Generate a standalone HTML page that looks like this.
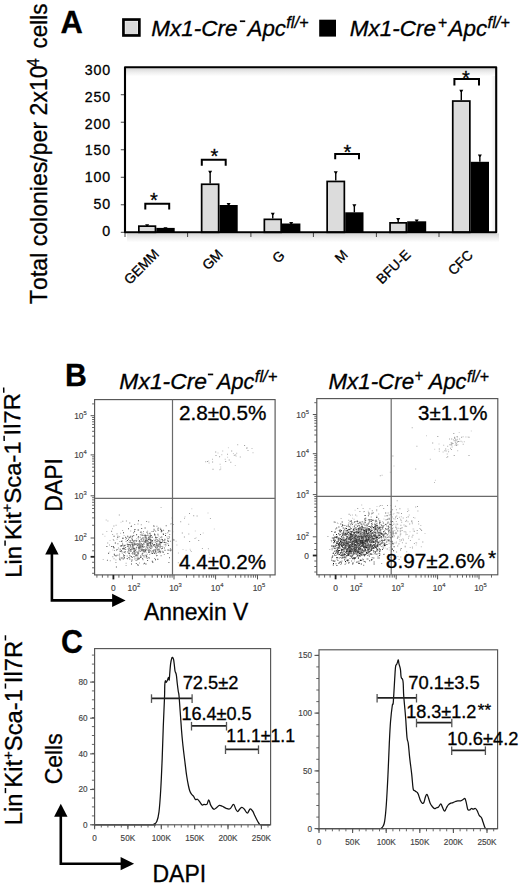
<!DOCTYPE html>
<html><head><meta charset="utf-8"><style>
html,body{margin:0;padding:0;background:#fff;width:520px;height:884px;overflow:hidden}
svg{display:block}
text{font-family:"Liberation Sans",sans-serif;font-kerning:none;stroke:#000;stroke-width:0.3px}
text[fill="#444"]{stroke:#444;stroke-width:0.15px}
</style></head><body>
<svg width="520" height="884" viewBox="0 0 520 884">
<rect width="520" height="884" fill="#fff"/>
<text transform="translate(60.42,33.00) scale(0.9810,1)" font-size="31.5" font-weight="bold" fill="#000">A</text>
<rect x="123.45" y="19.55" width="15.9" height="15.9" fill="#fff" stroke="#000" stroke-width="2.7"/>
<rect x="125.3" y="21.3" width="12.4" height="12.7" fill="#d9d9d9"/>
<rect x="319.2" y="19.7" width="16.8" height="16.9" fill="#000"/>
<text transform="translate(151.18,36.00) scale(1.0242,1)" font-size="22" font-style="italic" fill="#000">Mx1-Cre</text>
<rect x="239.9" y="20.4" width="5.3" height="1.7" fill="#000"/>
<text transform="translate(247.52,36.00) scale(1.0155,1)" font-size="22" font-style="italic" fill="#000">Apc</text>
<text transform="translate(286.30,28.40) scale(0.9953,1)" font-size="16.5" font-style="italic" fill="#000">fl/+</text>
<text transform="translate(349.68,36.00) scale(1.0242,1)" font-size="22" font-style="italic" fill="#000">Mx1-Cre</text>
<text transform="translate(437.84,27.90) scale(0.9630,1)" font-size="16.5" font-style="italic" fill="#000">+</text>
<text transform="translate(448.52,36.00) scale(1.0207,1)" font-size="22" font-style="italic" fill="#000">Apc</text>
<text transform="translate(487.60,28.40) scale(0.9953,1)" font-size="16.5" font-style="italic" fill="#000">fl/+</text>
<text transform="translate(46.90,304.00) rotate(-90) scale(1.0038,1)" font-size="23" fill="#000">Total colonies/per 2x10</text>
<text transform="translate(38.60,66.77) rotate(-90) scale(0.9277,1)" font-size="16.5" fill="#000">4</text>
<text transform="translate(46.90,48.48) rotate(-90) scale(0.9751,1)" font-size="23" fill="#000">cells</text>
<defs><linearGradient id="sh" x1="0" y1="0" x2="0" y2="1"><stop offset="0" stop-color="#d8d8d8"/><stop offset="0.5" stop-color="#eeeeee"/><stop offset="1" stop-color="#fff"/></linearGradient><linearGradient id="shr" x1="0" y1="0" x2="1" y2="0"><stop offset="0" stop-color="#fff"/><stop offset="1" stop-color="#ededed"/></linearGradient></defs>
<rect x="126" y="68.2" width="369" height="8" fill="url(#sh)"/>
<rect x="491" y="76" width="4" height="155" fill="url(#shr)"/>
<rect x="127" y="233.4" width="372" height="9" fill="url(#sh)"/>
<line x1="120.8" y1="232.30" x2="124.5" y2="232.30" stroke="#444" stroke-width="1"/>
<text x="102.20" y="235.85" font-size="14.2" letter-spacing="0.8">0</text>
<line x1="120.8" y1="204.78" x2="124.5" y2="204.78" stroke="#444" stroke-width="1"/>
<text x="93.50" y="209.05" font-size="14.2" letter-spacing="0.8">50</text>
<line x1="120.8" y1="177.27" x2="124.5" y2="177.27" stroke="#444" stroke-width="1"/>
<text x="84.80" y="182.25" font-size="14.2" letter-spacing="0.8">100</text>
<line x1="120.8" y1="149.75" x2="124.5" y2="149.75" stroke="#444" stroke-width="1"/>
<text x="84.80" y="155.45" font-size="14.2" letter-spacing="0.8">150</text>
<line x1="120.8" y1="122.23" x2="124.5" y2="122.23" stroke="#444" stroke-width="1"/>
<text x="84.80" y="128.65" font-size="14.2" letter-spacing="0.8">200</text>
<line x1="120.8" y1="94.72" x2="124.5" y2="94.72" stroke="#444" stroke-width="1"/>
<text x="84.80" y="101.85" font-size="14.2" letter-spacing="0.8">250</text>
<text x="84.80" y="75.05" font-size="14.2" letter-spacing="0.8">300</text>
<line x1="187.6" y1="232" x2="187.6" y2="237" stroke="#444" stroke-width="1"/>
<line x1="250.9" y1="232" x2="250.9" y2="237" stroke="#444" stroke-width="1"/>
<line x1="313.4" y1="232" x2="313.4" y2="237" stroke="#444" stroke-width="1"/>
<line x1="376.4" y1="232" x2="376.4" y2="237" stroke="#444" stroke-width="1"/>
<line x1="439" y1="232" x2="439" y2="237" stroke="#444" stroke-width="1"/>
<line x1="125" y1="232" x2="125" y2="237" stroke="#444" stroke-width="1"/>
<path d="M147.15,225.2 V225.3" stroke="#000" stroke-width="1.4"/>
<path d="M145.15,224.2 h4 l-1.3,2.2 h-1.4z" fill="#000"/>
<path d="M165.50,228.3 V227.9" stroke="#000" stroke-width="1.4"/>
<path d="M163.50,227.3 h4 l-1.3,2.2 h-1.4z" fill="#000"/>
<rect x="138.85" y="226.15" width="16.60" height="6.15" fill="#dcdcdc" stroke="#000" stroke-width="1.7"/>
<rect x="156.30" y="227.90" width="18.40" height="4.40" fill="#000"/>
<path d="M210.15,171.7 V183.4" stroke="#000" stroke-width="1.4"/>
<path d="M208.15,170.7 h4 l-1.3,2.2 h-1.4z" fill="#000"/>
<path d="M228.60,204 V205" stroke="#000" stroke-width="1.4"/>
<path d="M226.60,203 h4 l-1.3,2.2 h-1.4z" fill="#000"/>
<rect x="201.65" y="184.25" width="17.00" height="48.05" fill="#dcdcdc" stroke="#000" stroke-width="1.7"/>
<rect x="219.50" y="205.00" width="18.20" height="27.30" fill="#000"/>
<path d="M272.75,213.7 V218.5" stroke="#000" stroke-width="1.4"/>
<path d="M270.75,212.7 h4 l-1.3,2.2 h-1.4z" fill="#000"/>
<path d="M291.20,223 V223.5" stroke="#000" stroke-width="1.4"/>
<path d="M289.20,222 h4 l-1.3,2.2 h-1.4z" fill="#000"/>
<rect x="264.35" y="219.35" width="16.80" height="12.95" fill="#dcdcdc" stroke="#000" stroke-width="1.7"/>
<rect x="282.00" y="223.50" width="18.40" height="8.80" fill="#000"/>
<path d="M335.75,172.3 V180.6" stroke="#000" stroke-width="1.4"/>
<path d="M333.75,171.3 h4 l-1.3,2.2 h-1.4z" fill="#000"/>
<path d="M354.35,205.2 V212.3" stroke="#000" stroke-width="1.4"/>
<path d="M352.35,204.2 h4 l-1.3,2.2 h-1.4z" fill="#000"/>
<rect x="327.15" y="181.45" width="17.20" height="50.85" fill="#dcdcdc" stroke="#000" stroke-width="1.7"/>
<rect x="345.20" y="212.30" width="18.30" height="20.00" fill="#000"/>
<path d="M398.20,219 V222" stroke="#000" stroke-width="1.4"/>
<path d="M396.20,218 h4 l-1.3,2.2 h-1.4z" fill="#000"/>
<path d="M416.70,220.5 V221.3" stroke="#000" stroke-width="1.4"/>
<path d="M414.70,219.5 h4 l-1.3,2.2 h-1.4z" fill="#000"/>
<rect x="390.05" y="222.85" width="16.30" height="9.45" fill="#dcdcdc" stroke="#000" stroke-width="1.7"/>
<rect x="407.20" y="221.30" width="19.00" height="11.00" fill="#000"/>
<path d="M461.30,90.8 V100.2" stroke="#000" stroke-width="1.4"/>
<path d="M459.30,89.8 h4 l-1.3,2.2 h-1.4z" fill="#000"/>
<path d="M479.85,155.5 V161.8" stroke="#000" stroke-width="1.4"/>
<path d="M477.85,154.5 h4 l-1.3,2.2 h-1.4z" fill="#000"/>
<rect x="452.75" y="101.05" width="17.10" height="131.25" fill="#dcdcdc" stroke="#000" stroke-width="1.7"/>
<rect x="470.70" y="161.80" width="18.30" height="70.50" fill="#000"/>
<path d="M145.3,209.6 V203.8 H169.2 V209.6" fill="none" stroke="#000" stroke-width="2"/>
<text x="150.10" y="207.10" font-size="20">*</text>
<path d="M201.8,165.7 V159.8 H225.7 V165.7" fill="none" stroke="#000" stroke-width="2"/>
<text x="210.60" y="163.20" font-size="20">*</text>
<path d="M335.2,159.2 V153.9 H359 V159.2" fill="none" stroke="#000" stroke-width="2"/>
<text x="343.50" y="158.60" font-size="20">*</text>
<path d="M454.4,85.6 V78.9 H479 V85.6" fill="none" stroke="#000" stroke-width="2"/>
<text x="462.00" y="84.90" font-size="20">*</text>
<path d="M125,232.3 V67.2 H496.2 V232.3 Z" fill="none" stroke="#000" stroke-width="2.1" stroke-linejoin="round"/>
<text transform="translate(160,254.8) rotate(-45)" font-size="13.8" text-anchor="end">GEMM</text>
<text transform="translate(223.6,255.1) rotate(-45)" font-size="13.8" text-anchor="end">GM</text>
<text transform="translate(285.6,256.5) rotate(-45)" font-size="13.8" text-anchor="end">G</text>
<text transform="translate(348.6,255.6) rotate(-45)" font-size="13.8" text-anchor="end">M</text>
<text transform="translate(411.4,255.5) rotate(-45)" font-size="13.8" text-anchor="end">BFU-E</text>
<text transform="translate(473.7,256) rotate(-45)" font-size="13.8" text-anchor="end">CFC</text>
<text transform="translate(64.92,386.20) scale(0.9439,1)" font-size="32" font-weight="bold" fill="#000">B</text>
<text transform="translate(119.37,388.50) scale(1.0411,1)" font-size="22" font-style="italic" fill="#000">Mx1-Cre</text>
<rect x="207.9" y="373.6" width="5.3" height="1.7" fill="#000"/>
<text transform="translate(217.08,388.50) scale(0.9845,1)" font-size="22" font-style="italic" fill="#000">Apc</text>
<text transform="translate(254.80,382.30) scale(1.0047,1)" font-size="16.5" font-style="italic" fill="#000">fl/+</text>
<text transform="translate(328.49,388.60) scale(1.0157,1)" font-size="22" font-style="italic" fill="#000">Mx1-Cre</text>
<text transform="translate(414.51,380.60) scale(0.8889,1)" font-size="16.5" font-style="italic" fill="#000">+</text>
<text transform="translate(428.79,388.60) scale(0.9948,1)" font-size="22" font-style="italic" fill="#000">Apc</text>
<text transform="translate(467.01,382.10) scale(0.9812,1)" font-size="16.5" font-style="italic" fill="#000">fl/+</text>
<g transform="translate(21.5,575.8000000000001) rotate(-90.5) scale(1.0386,1)"><text x="-1.90" y="0" font-size="23">Lin</text><rect x="29.09" y="-16.9" width="5" height="1.5" fill="#000"/><text x="34.39" y="0" font-size="23">Kit</text><text x="61.23" y="-8.9" font-size="14.2">+</text><text x="69.53" y="0" font-size="23">Sca-1</text><rect x="129.91" y="-16.9" width="5" height="1.5" fill="#000"/><text x="135.21" y="0" font-size="23">Il7R</text><rect x="176.41" y="-16.9" width="5" height="1.5" fill="#000"/></g>
<g transform="translate(21.6,823.3000000000001) rotate(-90) scale(1.0364,1)"><text x="-1.90" y="0" font-size="23">Lin</text><rect x="29.09" y="-16.9" width="5" height="1.5" fill="#000"/><text x="34.39" y="0" font-size="23">Kit</text><text x="61.23" y="-8.9" font-size="14.2">+</text><text x="69.53" y="0" font-size="23">Sca-1</text><rect x="129.91" y="-16.9" width="5" height="1.5" fill="#000"/><text x="135.21" y="0" font-size="23">Il7R</text><rect x="176.41" y="-16.9" width="5" height="1.5" fill="#000"/></g>
<text transform="translate(62.20,511.70) rotate(-90)" font-size="23" fill="#000">DAPI</text>
<text transform="translate(143.90,619.80) scale(0.9962,1)" font-size="23" fill="#000">Annexin V</text>
<text transform="translate(61.80,784.30) rotate(-90) scale(0.9959,1)" font-size="23" fill="#000">Cells</text>
<text transform="translate(152.50,881.70)" font-size="23" fill="#000">DAPI</text>
<text transform="translate(61.01,652.80) scale(0.9209,1)" font-size="33" font-weight="bold" fill="#000">C</text>
<path d="M51.9,553.5 V600.4 H113.6" fill="none" stroke="#000" stroke-width="2.6" stroke-linejoin="miter"/>
<path d="M51.9,541.5 L45.199999999999996,554.5 L58.6,554.5 Z" fill="#000"/>
<path d="M125.6,600.4 L112.1,593.8 L112.1,607.0 Z" fill="#000"/>
<path d="M60.8,815.8 V863.7 H122.1" fill="none" stroke="#000" stroke-width="2.6" stroke-linejoin="miter"/>
<path d="M60.8,803.8 L54.099999999999994,816.8 L67.5,816.8 Z" fill="#000"/>
<path d="M134.1,863.7 L120.6,857.1 L120.6,870.3000000000001 Z" fill="#000"/>
<path d="M124.4 551.2h1v1h-1zM130.7 542.5h1v1h-1zM143.4 543.9h1v1h-1zM152.7 544.8h1v1h-1zM159.3 543.3h1v1h-1zM137.9 538.6h1v1h-1zM113.5 558.3h1v1h-1zM151.3 546.3h1v1h-1zM113.3 540.0h1v1h-1zM166.6 542.9h1v1h-1zM166.6 536.4h1v1h-1zM151.6 542.7h1v1h-1zM144.3 537.5h1v1h-1zM151.6 536.8h1v1h-1zM132.1 535.5h1v1h-1zM142.5 541.0h1v1h-1zM140.1 548.4h1v1h-1zM130.2 530.6h1v1h-1zM155.5 551.0h1v1h-1zM125.6 562.7h1v1h-1zM137.4 552.9h1v1h-1zM163.7 544.3h1v1h-1zM145.3 537.6h1v1h-1zM149.6 539.8h1v1h-1zM128.4 545.8h1v1h-1zM134.4 547.4h1v1h-1zM151.0 544.9h1v1h-1zM121.8 552.8h1v1h-1zM125.1 552.4h1v1h-1zM139.0 562.5h1v1h-1zM144.1 543.5h1v1h-1zM117.3 535.4h1v1h-1zM150.1 542.3h1v1h-1zM149.2 554.0h1v1h-1zM125.6 565.1h1v1h-1zM150.9 551.3h1v1h-1zM145.4 540.4h1v1h-1zM144.2 535.6h1v1h-1zM158.2 549.8h1v1h-1zM153.7 544.2h1v1h-1zM137.3 555.0h1v1h-1zM142.0 541.1h1v1h-1zM134.9 542.7h1v1h-1zM142.8 555.3h1v1h-1zM134.0 556.5h1v1h-1zM135.3 550.6h1v1h-1zM133.0 532.5h1v1h-1zM161.1 547.9h1v1h-1zM127.9 548.6h1v1h-1zM145.1 535.7h1v1h-1zM168.1 540.6h1v1h-1zM136.9 556.6h1v1h-1zM163.8 554.0h1v1h-1zM146.5 540.7h1v1h-1zM152.8 550.5h1v1h-1zM122.8 548.7h1v1h-1zM138.8 539.9h1v1h-1zM156.0 552.6h1v1h-1zM138.1 559.1h1v1h-1zM157.3 548.7h1v1h-1zM115.4 559.5h1v1h-1zM146.8 547.2h1v1h-1zM154.5 530.0h1v1h-1zM149.7 536.9h1v1h-1zM162.9 551.2h1v1h-1zM139.9 545.5h1v1h-1zM152.4 541.7h1v1h-1zM162.2 546.7h1v1h-1zM148.4 542.1h1v1h-1zM167.8 543.6h1v1h-1zM136.2 538.2h1v1h-1zM122.1 530.1h1v1h-1zM145.3 540.8h1v1h-1zM145.3 548.1h1v1h-1zM132.5 547.4h1v1h-1zM142.5 544.8h1v1h-1zM112.1 533.9h1v1h-1zM141.2 532.4h1v1h-1zM112.8 539.1h1v1h-1zM138.1 529.5h1v1h-1zM159.7 550.2h1v1h-1zM149.5 542.8h1v1h-1zM146.5 545.6h1v1h-1zM115.6 524.7h1v1h-1zM116.6 538.7h1v1h-1zM148.1 545.4h1v1h-1zM138.0 545.2h1v1h-1zM142.8 532.7h1v1h-1zM125.2 538.8h1v1h-1zM142.5 535.0h1v1h-1zM116.5 533.4h1v1h-1zM153.8 529.4h1v1h-1zM143.1 563.6h1v1h-1zM102.3 533.7h1v1h-1zM164.9 545.5h1v1h-1zM129.3 536.4h1v1h-1zM154.8 534.2h1v1h-1zM109.0 544.4h1v1h-1zM155.2 531.1h1v1h-1zM109.8 560.2h1v1h-1zM194.5 538.0h1v1h-1zM207.9 548.3h1v1h-1zM209.9 518.1h1v1h-1zM188.3 533.5h1v1h-1zM201.9 548.1h1v1h-1zM177.8 562.3h1v1h-1zM184.0 517.8h1v1h-1zM237.2 444.3h1v1h-1zM239.8 456.5h1v1h-1zM247.5 450.1h1v1h-1zM227.0 453.8h1v1h-1zM205.2 461.3h1v1h-1z" fill="#aaa"/>
<path d="M114.0 554.5h1v1h-1zM153.7 545.4h1v1h-1zM115.4 555.3h1v1h-1zM140.4 538.8h1v1h-1zM139.0 547.7h1v1h-1zM144.4 540.9h1v1h-1zM146.9 539.7h1v1h-1zM161.9 547.9h1v1h-1zM139.7 551.1h1v1h-1zM142.6 540.5h1v1h-1zM137.3 563.9h1v1h-1zM129.3 541.8h1v1h-1zM152.9 530.8h1v1h-1zM157.7 548.8h1v1h-1zM133.7 540.2h1v1h-1zM167.5 538.1h1v1h-1zM121.8 557.5h1v1h-1zM121.4 551.3h1v1h-1zM138.1 553.3h1v1h-1zM157.4 533.8h1v1h-1zM113.0 546.1h1v1h-1zM152.1 540.3h1v1h-1zM150.5 541.1h1v1h-1zM119.9 545.4h1v1h-1zM119.7 548.7h1v1h-1zM150.2 548.1h1v1h-1zM130.6 550.5h1v1h-1zM134.2 552.6h1v1h-1zM149.9 543.0h1v1h-1zM127.5 551.6h1v1h-1zM169.0 557.2h1v1h-1zM168.9 537.2h1v1h-1zM140.6 556.5h1v1h-1zM126.1 537.8h1v1h-1zM162.0 539.3h1v1h-1zM149.6 535.7h1v1h-1zM133.1 548.2h1v1h-1zM148.9 551.5h1v1h-1zM129.4 541.9h1v1h-1zM145.3 542.1h1v1h-1zM154.2 544.0h1v1h-1zM163.1 529.7h1v1h-1zM138.2 544.0h1v1h-1zM134.5 544.1h1v1h-1zM140.6 544.8h1v1h-1zM135.8 563.1h1v1h-1zM168.2 530.0h1v1h-1zM159.5 552.2h1v1h-1zM146.3 543.8h1v1h-1zM152.0 540.6h1v1h-1zM168.4 561.9h1v1h-1zM132.2 545.0h1v1h-1zM161.3 536.5h1v1h-1zM133.2 535.1h1v1h-1zM141.7 549.3h1v1h-1zM138.1 547.6h1v1h-1zM134.5 552.1h1v1h-1zM128.5 549.4h1v1h-1zM123.5 557.9h1v1h-1zM123.3 547.5h1v1h-1zM119.7 559.5h1v1h-1zM156.3 547.7h1v1h-1zM140.8 543.0h1v1h-1zM138.6 558.2h1v1h-1zM145.7 537.2h1v1h-1zM158.6 540.5h1v1h-1zM139.5 549.5h1v1h-1zM137.6 564.9h1v1h-1zM160.5 545.9h1v1h-1zM133.6 543.1h1v1h-1zM135.4 555.4h1v1h-1zM106.9 559.8h1v1h-1zM148.3 550.5h1v1h-1zM149.0 542.4h1v1h-1zM130.3 545.8h1v1h-1zM165.7 525.3h1v1h-1zM132.4 542.0h1v1h-1zM150.0 544.2h1v1h-1zM123.9 556.9h1v1h-1zM137.4 558.1h1v1h-1zM137.0 545.1h1v1h-1zM160.0 542.1h1v1h-1zM153.3 525.3h1v1h-1zM133.6 551.0h1v1h-1zM165.4 542.1h1v1h-1zM141.8 544.0h1v1h-1z" fill="#666"/>
<path d="M151.6 552.7h1v1h-1zM131.4 537.8h1v1h-1zM134.2 548.3h1v1h-1zM147.2 544.5h1v1h-1zM158.8 550.4h1v1h-1zM150.8 540.1h1v1h-1zM138.7 546.8h1v1h-1zM140.1 555.4h1v1h-1zM167.2 539.8h1v1h-1zM156.6 545.9h1v1h-1zM141.2 528.1h1v1h-1zM157.7 551.6h1v1h-1zM156.3 541.0h1v1h-1zM106.4 546.1h1v1h-1zM154.0 534.3h1v1h-1zM149.1 546.7h1v1h-1zM141.8 554.5h1v1h-1zM117.1 536.8h1v1h-1zM132.3 552.8h1v1h-1zM113.3 547.0h1v1h-1zM131.7 557.1h1v1h-1zM126.7 557.9h1v1h-1zM150.1 545.5h1v1h-1zM137.1 559.3h1v1h-1zM149.8 534.4h1v1h-1zM149.4 542.1h1v1h-1zM149.1 537.4h1v1h-1zM154.4 540.3h1v1h-1zM159.5 542.1h1v1h-1zM141.2 549.2h1v1h-1zM136.6 543.2h1v1h-1zM145.2 540.3h1v1h-1zM138.7 545.6h1v1h-1zM159.3 551.0h1v1h-1zM158.8 538.5h1v1h-1zM154.0 533.5h1v1h-1zM129.8 545.0h1v1h-1zM136.0 547.2h1v1h-1zM144.8 537.2h1v1h-1zM128.4 549.8h1v1h-1zM141.2 543.7h1v1h-1zM155.2 536.9h1v1h-1zM150.0 541.9h1v1h-1zM125.1 547.0h1v1h-1zM114.8 542.4h1v1h-1zM145.8 535.2h1v1h-1zM162.6 551.9h1v1h-1zM160.4 542.6h1v1h-1zM142.4 534.8h1v1h-1zM133.5 549.7h1v1h-1zM142.2 552.9h1v1h-1zM140.2 531.7h1v1h-1zM152.9 544.8h1v1h-1zM126.9 545.8h1v1h-1zM132.6 544.3h1v1h-1zM159.4 540.9h1v1h-1zM115.9 566.6h1v1h-1zM128.0 528.3h1v1h-1zM134.3 529.1h1v1h-1zM150.7 539.6h1v1h-1zM128.8 543.9h1v1h-1zM122.4 537.8h1v1h-1zM119.8 551.1h1v1h-1zM133.1 540.7h1v1h-1zM146.8 540.2h1v1h-1zM156.5 537.1h1v1h-1zM142.6 546.7h1v1h-1zM124.6 544.8h1v1h-1zM141.6 548.4h1v1h-1zM145.7 546.4h1v1h-1zM143.4 539.5h1v1h-1zM120.9 545.2h1v1h-1zM116.1 549.5h1v1h-1zM157.4 540.6h1v1h-1zM147.1 560.0h1v1h-1zM140.6 540.7h1v1h-1zM150.9 535.0h1v1h-1zM142.0 545.9h1v1h-1zM135.2 554.7h1v1h-1zM137.4 552.3h1v1h-1zM147.1 547.5h1v1h-1z" fill="#555"/>
<path d="M155.3 547.0h1v1h-1zM122.4 537.7h1v1h-1zM132.0 539.5h1v1h-1zM131.5 548.7h1v1h-1zM140.1 545.5h1v1h-1zM146.3 538.3h1v1h-1zM119.3 558.8h1v1h-1zM151.6 536.8h1v1h-1zM130.7 542.0h1v1h-1zM141.3 550.3h1v1h-1zM156.8 549.6h1v1h-1zM159.6 547.2h1v1h-1zM142.2 546.2h1v1h-1zM115.6 555.2h1v1h-1zM160.2 529.0h1v1h-1zM151.9 543.3h1v1h-1zM170.1 550.3h1v1h-1zM151.8 560.7h1v1h-1zM140.2 545.8h1v1h-1zM161.6 539.0h1v1h-1zM134.4 544.1h1v1h-1zM164.5 549.8h1v1h-1zM160.1 551.6h1v1h-1zM148.2 538.4h1v1h-1zM147.4 544.2h1v1h-1zM164.3 539.6h1v1h-1zM125.1 536.7h1v1h-1zM129.3 558.5h1v1h-1zM130.2 550.6h1v1h-1zM130.2 548.9h1v1h-1zM135.6 559.7h1v1h-1zM131.0 563.6h1v1h-1zM136.2 540.2h1v1h-1zM127.2 535.8h1v1h-1zM132.1 543.5h1v1h-1zM137.5 551.6h1v1h-1zM124.2 548.6h1v1h-1zM161.5 530.5h1v1h-1zM147.7 543.2h1v1h-1zM156.6 539.2h1v1h-1zM160.9 529.9h1v1h-1zM130.8 556.1h1v1h-1zM162.9 534.0h1v1h-1zM167.7 541.0h1v1h-1zM128.5 557.0h1v1h-1zM132.1 536.3h1v1h-1zM144.6 534.6h1v1h-1zM143.6 550.5h1v1h-1zM151.4 546.3h1v1h-1zM145.5 555.3h1v1h-1zM151.9 553.1h1v1h-1zM128.6 552.9h1v1h-1zM147.6 540.8h1v1h-1zM161.9 540.6h1v1h-1zM123.0 532.3h1v1h-1zM148.7 557.5h1v1h-1zM147.9 536.8h1v1h-1zM140.2 557.0h1v1h-1zM137.8 546.7h1v1h-1zM127.7 545.6h1v1h-1zM121.2 540.9h1v1h-1zM146.5 543.0h1v1h-1zM148.4 551.9h1v1h-1zM146.5 531.7h1v1h-1zM130.0 544.5h1v1h-1zM146.2 556.1h1v1h-1zM150.6 541.6h1v1h-1zM137.6 529.4h1v1h-1zM139.6 543.8h1v1h-1zM164.1 542.0h1v1h-1zM168.1 545.0h1v1h-1zM138.0 520.3h1v1h-1zM120.7 557.4h1v1h-1zM139.8 547.2h1v1h-1zM153.8 544.1h1v1h-1zM123.3 548.0h1v1h-1zM144.6 527.6h1v1h-1zM160.8 531.3h1v1h-1zM145.3 539.4h1v1h-1zM142.4 549.5h1v1h-1zM167.4 552.9h1v1h-1zM134.1 550.8h1v1h-1zM157.4 528.6h1v1h-1zM139.4 541.6h1v1h-1zM158.7 543.8h1v1h-1zM145.2 541.3h1v1h-1zM154.7 545.8h1v1h-1zM135.7 543.7h1v1h-1zM113.8 553.8h1v1h-1zM113.6 535.8h1v1h-1zM126.8 543.8h1v1h-1zM134.8 549.9h1v1h-1zM142.4 537.5h1v1h-1zM134.7 540.2h1v1h-1zM138.6 557.8h1v1h-1zM123.0 554.4h1v1h-1zM149.5 535.8h1v1h-1z" fill="#444"/>
<path d="M111.3 546.1h1v1h-1zM146.7 545.2h1v1h-1zM152.3 561.7h1v1h-1zM165.0 534.9h1v1h-1zM155.5 537.1h1v1h-1zM131.6 544.0h1v1h-1zM144.7 549.3h1v1h-1zM149.5 538.5h1v1h-1zM144.6 534.9h1v1h-1zM155.0 559.3h1v1h-1zM142.1 558.2h1v1h-1zM122.2 548.3h1v1h-1zM131.0 525.8h1v1h-1zM134.1 530.7h1v1h-1zM124.1 555.2h1v1h-1zM150.0 535.3h1v1h-1zM150.4 542.4h1v1h-1zM141.9 544.6h1v1h-1zM138.4 543.7h1v1h-1zM121.4 544.9h1v1h-1zM130.3 535.7h1v1h-1zM155.9 543.6h1v1h-1zM133.6 548.2h1v1h-1zM147.3 542.9h1v1h-1zM156.4 543.4h1v1h-1zM169.9 548.6h1v1h-1zM148.3 539.0h1v1h-1zM124.1 545.3h1v1h-1zM131.6 539.4h1v1h-1zM145.6 539.7h1v1h-1zM132.8 547.4h1v1h-1zM127.7 544.1h1v1h-1zM108.1 552.7h1v1h-1zM172.1 538.9h1v1h-1zM137.4 543.6h1v1h-1zM126.9 540.1h1v1h-1zM153.0 550.6h1v1h-1zM145.4 563.6h1v1h-1zM140.9 546.4h1v1h-1zM151.8 540.0h1v1h-1zM132.5 545.6h1v1h-1zM144.3 551.5h1v1h-1zM157.3 558.8h1v1h-1zM136.1 554.7h1v1h-1zM143.2 550.6h1v1h-1zM136.1 534.3h1v1h-1zM154.8 550.3h1v1h-1zM138.3 547.4h1v1h-1zM159.8 544.5h1v1h-1zM131.5 559.4h1v1h-1zM137.9 536.2h1v1h-1zM139.0 540.4h1v1h-1zM143.3 548.9h1v1h-1zM145.2 550.0h1v1h-1zM160.4 542.0h1v1h-1zM161.3 541.9h1v1h-1zM143.9 562.8h1v1h-1zM134.0 553.5h1v1h-1zM147.4 534.7h1v1h-1zM128.5 547.4h1v1h-1zM123.7 551.8h1v1h-1zM149.9 543.9h1v1h-1zM154.0 552.8h1v1h-1zM173.4 539.4h1v1h-1zM120.9 550.2h1v1h-1zM129.4 537.1h1v1h-1zM167.5 549.4h1v1h-1zM154.9 551.6h1v1h-1zM128.6 552.8h1v1h-1zM139.1 546.6h1v1h-1zM149.9 539.4h1v1h-1zM149.5 532.8h1v1h-1z" fill="#333"/>
<path d="M121.5 540.3h1v1h-1zM142.6 559.2h1v1h-1zM150.3 544.0h1v1h-1zM153.5 526.1h1v1h-1zM155.5 537.7h1v1h-1zM146.1 548.9h1v1h-1zM128.0 538.9h1v1h-1zM149.5 550.0h1v1h-1zM129.2 554.7h1v1h-1zM163.7 540.4h1v1h-1zM140.1 546.6h1v1h-1zM146.9 557.8h1v1h-1zM155.4 539.1h1v1h-1zM161.1 548.3h1v1h-1zM158.2 549.1h1v1h-1zM134.6 544.3h1v1h-1zM153.6 548.9h1v1h-1zM146.7 549.6h1v1h-1zM141.6 548.9h1v1h-1zM138.2 549.6h1v1h-1zM148.8 533.1h1v1h-1zM122.5 544.8h1v1h-1zM129.1 548.1h1v1h-1zM149.6 536.9h1v1h-1zM137.7 537.1h1v1h-1zM142.2 549.7h1v1h-1zM151.5 531.1h1v1h-1zM144.3 550.7h1v1h-1zM145.5 536.7h1v1h-1zM146.1 521.1h1v1h-1zM169.4 530.6h1v1h-1zM168.6 535.9h1v1h-1zM118.9 554.6h1v1h-1zM140.8 534.5h1v1h-1zM122.1 542.7h1v1h-1zM132.4 544.5h1v1h-1zM169.9 540.8h1v1h-1zM147.9 545.0h1v1h-1zM154.2 557.9h1v1h-1zM136.0 540.7h1v1h-1zM149.4 545.2h1v1h-1zM159.3 545.7h1v1h-1zM158.6 545.6h1v1h-1zM158.6 543.8h1v1h-1zM134.1 540.3h1v1h-1zM129.4 540.0h1v1h-1zM145.0 551.0h1v1h-1zM143.6 556.6h1v1h-1zM141.0 538.4h1v1h-1zM151.2 540.0h1v1h-1zM141.6 553.5h1v1h-1zM146.6 553.8h1v1h-1zM152.8 543.9h1v1h-1zM136.1 551.5h1v1h-1zM138.7 549.7h1v1h-1zM144.2 541.1h1v1h-1zM148.6 542.8h1v1h-1zM138.2 551.4h1v1h-1zM141.1 539.5h1v1h-1zM146.7 540.1h1v1h-1zM150.3 550.6h1v1h-1zM122.7 558.7h1v1h-1zM149.5 547.0h1v1h-1zM156.9 547.0h1v1h-1zM165.0 543.7h1v1h-1zM132.4 553.8h1v1h-1zM152.6 550.1h1v1h-1zM130.3 546.8h1v1h-1zM126.7 555.5h1v1h-1zM152.1 550.5h1v1h-1zM143.1 543.1h1v1h-1zM129.6 555.5h1v1h-1zM136.5 554.9h1v1h-1zM129.6 540.0h1v1h-1z" fill="#888"/>
<path d="M118.9 558.2h1v1h-1zM143.0 546.5h1v1h-1zM130.2 551.1h1v1h-1zM144.0 541.9h1v1h-1zM157.6 534.8h1v1h-1zM162.8 533.0h1v1h-1zM132.1 547.0h1v1h-1zM138.6 541.2h1v1h-1zM139.3 545.2h1v1h-1zM162.2 546.2h1v1h-1zM169.2 534.0h1v1h-1zM136.4 545.6h1v1h-1zM148.6 546.8h1v1h-1zM168.8 549.8h1v1h-1zM141.0 548.5h1v1h-1zM143.0 531.1h1v1h-1zM146.9 530.8h1v1h-1zM128.4 537.7h1v1h-1zM143.1 538.9h1v1h-1zM116.9 548.9h1v1h-1zM160.8 536.6h1v1h-1zM115.4 562.1h1v1h-1zM123.2 545.5h1v1h-1zM159.7 539.6h1v1h-1zM133.0 540.6h1v1h-1zM157.2 545.2h1v1h-1zM137.7 543.6h1v1h-1zM125.6 541.1h1v1h-1zM119.1 553.6h1v1h-1zM133.5 552.8h1v1h-1zM168.1 549.7h1v1h-1zM134.8 529.1h1v1h-1zM149.4 536.1h1v1h-1zM112.3 556.2h1v1h-1zM155.1 535.8h1v1h-1zM145.7 549.0h1v1h-1zM132.5 548.7h1v1h-1zM142.6 544.2h1v1h-1zM151.5 541.1h1v1h-1zM141.6 538.2h1v1h-1zM127.6 536.6h1v1h-1zM139.6 542.6h1v1h-1zM135.5 557.7h1v1h-1zM153.8 549.7h1v1h-1zM127.8 549.1h1v1h-1zM160.6 528.8h1v1h-1zM160.2 536.9h1v1h-1zM137.7 556.8h1v1h-1zM156.4 549.2h1v1h-1zM167.3 532.2h1v1h-1zM156.4 541.5h1v1h-1zM118.3 536.6h1v1h-1zM140.2 543.7h1v1h-1zM158.0 543.7h1v1h-1zM114.1 554.7h1v1h-1zM157.6 544.2h1v1h-1zM137.1 554.3h1v1h-1zM117.9 547.5h1v1h-1zM154.9 539.9h1v1h-1zM147.0 533.2h1v1h-1zM159.8 527.8h1v1h-1zM134.2 558.4h1v1h-1zM148.5 537.9h1v1h-1zM165.6 544.4h1v1h-1zM123.0 556.3h1v1h-1zM148.2 557.1h1v1h-1zM148.3 521.6h1v1h-1zM119.1 556.5h1v1h-1zM160.9 538.7h1v1h-1zM146.3 541.8h1v1h-1zM157.6 552.1h1v1h-1zM168.0 530.8h1v1h-1zM127.5 551.2h1v1h-1zM150.8 552.4h1v1h-1zM125.0 550.9h1v1h-1zM151.5 547.3h1v1h-1zM132.6 540.6h1v1h-1zM157.8 540.1h1v1h-1zM138.5 546.8h1v1h-1zM160.3 546.1h1v1h-1zM113.9 550.1h1v1h-1zM146.1 538.7h1v1h-1zM163.2 540.1h1v1h-1zM146.2 540.9h1v1h-1zM143.5 549.0h1v1h-1zM119.4 541.1h1v1h-1zM162.6 542.0h1v1h-1zM131.5 553.1h1v1h-1zM122.3 520.8h1v1h-1zM129.1 522.5h1v1h-1zM130.1 541.4h1v1h-1zM137.5 523.6h1v1h-1zM129.3 522.5h1v1h-1zM122.8 545.8h1v1h-1zM141.0 531.6h1v1h-1zM134.2 524.0h1v1h-1zM155.7 545.0h1v1h-1zM139.9 531.7h1v1h-1zM165.2 532.9h1v1h-1zM107.2 542.6h1v1h-1zM171.7 522.9h1v1h-1zM115.0 542.4h1v1h-1zM133.3 532.0h1v1h-1zM170.3 523.4h1v1h-1zM139.9 534.2h1v1h-1zM130.0 545.5h1v1h-1zM125.9 520.4h1v1h-1zM113.4 525.4h1v1h-1zM118.8 514.6h1v1h-1zM122.1 543.9h1v1h-1zM156.4 525.8h1v1h-1zM140.8 524.2h1v1h-1zM189.0 513.1h1v1h-1zM189.1 540.9h1v1h-1zM193.2 515.3h1v1h-1zM200.0 534.0h1v1h-1zM198.2 540.1h1v1h-1zM181.8 532.4h1v1h-1zM196.6 515.5h1v1h-1zM183.9 536.4h1v1h-1zM180.2 521.3h1v1h-1zM235.2 454.5h1v1h-1zM225.2 461.1h1v1h-1zM231.2 450.5h1v1h-1zM212.1 461.4h1v1h-1zM246.3 448.0h1v1h-1zM244.1 445.0h1v1h-1zM230.3 461.7h1v1h-1zM207.0 461.1h1v1h-1zM215.2 451.4h1v1h-1zM212.5 468.7h1v1h-1zM233.8 454.7h1v1h-1zM228.7 459.5h1v1h-1zM215.5 454.9h1v1h-1zM219.1 456.3h1v1h-1z" fill="#999"/>
<path d="M134.3 549.2h1v1h-1zM172.6 523.9h1v1h-1zM158.8 548.8h1v1h-1zM145.8 557.3h1v1h-1zM164.0 547.4h1v1h-1zM124.9 546.9h1v1h-1zM143.9 546.2h1v1h-1zM131.1 560.8h1v1h-1zM147.2 542.8h1v1h-1zM134.8 553.6h1v1h-1zM144.8 536.2h1v1h-1zM113.5 547.6h1v1h-1zM141.0 549.7h1v1h-1zM148.0 549.8h1v1h-1zM148.4 548.5h1v1h-1zM156.2 545.0h1v1h-1zM156.3 543.5h1v1h-1zM131.5 542.5h1v1h-1zM131.4 547.7h1v1h-1zM125.2 549.1h1v1h-1zM138.7 543.2h1v1h-1zM136.4 554.1h1v1h-1zM117.3 554.8h1v1h-1zM156.0 555.3h1v1h-1zM137.2 553.4h1v1h-1zM156.6 555.1h1v1h-1zM172.1 538.3h1v1h-1zM111.1 530.8h1v1h-1zM164.4 538.8h1v1h-1zM160.6 555.2h1v1h-1zM137.4 553.6h1v1h-1zM139.7 536.7h1v1h-1zM143.3 550.3h1v1h-1zM148.0 551.4h1v1h-1zM143.5 555.2h1v1h-1zM171.2 549.6h1v1h-1zM152.9 552.3h1v1h-1zM141.6 534.5h1v1h-1zM132.3 545.9h1v1h-1zM156.0 543.1h1v1h-1zM135.6 548.8h1v1h-1zM161.8 550.7h1v1h-1zM148.9 549.6h1v1h-1zM134.3 543.4h1v1h-1zM139.2 545.3h1v1h-1zM150.5 535.0h1v1h-1zM157.4 544.7h1v1h-1zM156.3 544.9h1v1h-1zM130.0 540.5h1v1h-1zM119.6 550.6h1v1h-1zM150.5 548.3h1v1h-1zM117.4 543.3h1v1h-1zM150.1 535.3h1v1h-1zM134.0 542.6h1v1h-1zM157.8 527.4h1v1h-1zM147.6 542.5h1v1h-1zM155.0 548.8h1v1h-1zM142.6 551.6h1v1h-1zM153.5 528.8h1v1h-1zM138.9 540.8h1v1h-1zM154.3 534.4h1v1h-1zM133.6 544.7h1v1h-1zM120.7 545.8h1v1h-1zM127.1 558.2h1v1h-1zM158.0 545.8h1v1h-1zM132.3 551.9h1v1h-1zM157.7 530.1h1v1h-1zM154.8 541.7h1v1h-1zM142.7 537.6h1v1h-1zM146.0 555.3h1v1h-1zM133.4 556.0h1v1h-1zM159.4 543.3h1v1h-1zM155.6 553.3h1v1h-1zM133.4 550.9h1v1h-1zM150.7 545.1h1v1h-1zM134.9 550.0h1v1h-1z" fill="#777"/>
<path d="M160.6 507.0h1v1h-1zM128.2 541.4h1v1h-1zM130.3 526.0h1v1h-1zM134.7 539.7h1v1h-1zM145.9 551.7h1v1h-1zM123.6 535.0h1v1h-1zM112.0 528.2h1v1h-1zM113.3 535.9h1v1h-1zM137.6 543.5h1v1h-1zM171.6 517.6h1v1h-1zM102.7 559.1h1v1h-1zM105.7 519.6h1v1h-1zM120.1 532.7h1v1h-1zM129.2 551.2h1v1h-1zM119.1 536.0h1v1h-1zM106.3 530.9h1v1h-1zM127.7 547.9h1v1h-1zM157.3 529.6h1v1h-1zM141.4 546.7h1v1h-1zM146.2 543.2h1v1h-1zM107.4 520.4h1v1h-1zM169.1 537.1h1v1h-1zM153.4 538.7h1v1h-1zM137.2 553.9h1v1h-1zM140.8 543.7h1v1h-1zM177.9 552.5h1v1h-1zM209.4 557.2h1v1h-1zM190.8 550.9h1v1h-1zM188.2 523.8h1v1h-1zM176.4 544.6h1v1h-1zM175.6 540.7h1v1h-1zM209.3 553.5h1v1h-1zM212.0 458.8h1v1h-1zM219.6 463.8h1v1h-1zM246.5 447.1h1v1h-1zM252.5 452.3h1v1h-1zM236.2 452.8h1v1h-1zM224.7 458.8h1v1h-1zM222.2 450.4h1v1h-1zM219.3 469.3h1v1h-1zM251.5 447.9h1v1h-1zM220.2 468.4h1v1h-1zM208.6 462.4h1v1h-1zM221.3 454.2h1v1h-1z" fill="#bbb"/>
<path d="M147.2 530.8h1v1h-1zM144.0 543.6h1v1h-1zM155.9 537.7h1v1h-1zM144.6 554.3h1v1h-1zM104.4 535.8h1v1h-1zM109.2 551.4h1v1h-1zM109.5 540.1h1v1h-1zM118.3 548.4h1v1h-1zM112.2 549.4h1v1h-1zM120.5 521.7h1v1h-1zM116.6 533.0h1v1h-1zM172.4 531.2h1v1h-1zM126.7 542.4h1v1h-1zM144.0 543.0h1v1h-1zM116.4 554.5h1v1h-1zM158.4 536.3h1v1h-1zM143.4 541.9h1v1h-1zM207.5 512.5h1v1h-1zM189.6 548.8h1v1h-1zM185.6 556.8h1v1h-1zM213.8 528.4h1v1h-1zM194.8 530.4h1v1h-1zM195.6 537.3h1v1h-1zM185.6 549.7h1v1h-1zM182.5 549.1h1v1h-1zM191.3 508.3h1v1h-1zM184.5 516.3h1v1h-1zM190.0 550.0h1v1h-1zM202.7 532.6h1v1h-1zM227.1 456.8h1v1h-1zM246.1 447.8h1v1h-1zM208.2 460.6h1v1h-1zM227.9 447.3h1v1h-1zM217.5 452.6h1v1h-1zM235.6 455.7h1v1h-1zM220.2 466.6h1v1h-1zM234.8 465.0h1v1h-1zM232.9 452.9h1v1h-1z" fill="#ccc"/>
<rect x="94.6" y="399.6" width="180.50000000000003" height="175.29999999999995" fill="none" stroke="#555" stroke-width="1.15"/>
<line x1="172.5" y1="399.6" x2="172.5" y2="574.9" stroke="#6a6a6a" stroke-width="1.2"/>
<line x1="94.6" y1="498.3" x2="275.1" y2="498.3" stroke="#6a6a6a" stroke-width="1.2"/>
<line x1="90.6" y1="415.7" x2="94.6" y2="415.7" stroke="#555" stroke-width="1"/>
<text x="86.69999999999999" y="418.9" font-size="8.4" text-anchor="end" fill="#444">10<tspan font-size="5.8" dy="-4.2">5</tspan></text>
<line x1="90.6" y1="454.9" x2="94.6" y2="454.9" stroke="#555" stroke-width="1"/>
<text x="86.69999999999999" y="458.1" font-size="8.4" text-anchor="end" fill="#444">10<tspan font-size="5.8" dy="-4.2">4</tspan></text>
<line x1="90.6" y1="495.8" x2="94.6" y2="495.8" stroke="#555" stroke-width="1"/>
<text x="86.69999999999999" y="499.0" font-size="8.4" text-anchor="end" fill="#444">10<tspan font-size="5.8" dy="-4.2">3</tspan></text>
<line x1="90.6" y1="538" x2="94.6" y2="538" stroke="#555" stroke-width="1"/>
<text x="86.69999999999999" y="541.2" font-size="8.4" text-anchor="end" fill="#444">10<tspan font-size="5.8" dy="-4.2">2</tspan></text>
<line x1="90.6" y1="556.8" x2="94.6" y2="556.8" stroke="#222" stroke-width="1.8"/>
<text x="86.69999999999999" y="559.9" font-size="8.4" text-anchor="end" fill="#444">0</text>
<line x1="92.1" y1="443.1" x2="94.6" y2="443.1" stroke="#555" stroke-width="0.9"/>
<line x1="92.1" y1="436.2" x2="94.6" y2="436.2" stroke="#555" stroke-width="0.9"/>
<line x1="92.1" y1="431.3" x2="94.6" y2="431.3" stroke="#555" stroke-width="0.9"/>
<line x1="92.1" y1="427.5" x2="94.6" y2="427.5" stroke="#555" stroke-width="0.9"/>
<line x1="92.1" y1="424.4" x2="94.6" y2="424.4" stroke="#555" stroke-width="0.9"/>
<line x1="92.1" y1="421.8" x2="94.6" y2="421.8" stroke="#555" stroke-width="0.9"/>
<line x1="92.1" y1="419.5" x2="94.6" y2="419.5" stroke="#555" stroke-width="0.9"/>
<line x1="92.1" y1="417.5" x2="94.6" y2="417.5" stroke="#555" stroke-width="0.9"/>
<line x1="92.1" y1="483.5" x2="94.6" y2="483.5" stroke="#555" stroke-width="0.9"/>
<line x1="92.1" y1="476.3" x2="94.6" y2="476.3" stroke="#555" stroke-width="0.9"/>
<line x1="92.1" y1="471.2" x2="94.6" y2="471.2" stroke="#555" stroke-width="0.9"/>
<line x1="92.1" y1="467.2" x2="94.6" y2="467.2" stroke="#555" stroke-width="0.9"/>
<line x1="92.1" y1="464.0" x2="94.6" y2="464.0" stroke="#555" stroke-width="0.9"/>
<line x1="92.1" y1="461.2" x2="94.6" y2="461.2" stroke="#555" stroke-width="0.9"/>
<line x1="92.1" y1="458.9" x2="94.6" y2="458.9" stroke="#555" stroke-width="0.9"/>
<line x1="92.1" y1="456.8" x2="94.6" y2="456.8" stroke="#555" stroke-width="0.9"/>
<line x1="92.1" y1="525.3" x2="94.6" y2="525.3" stroke="#555" stroke-width="0.9"/>
<line x1="92.1" y1="517.9" x2="94.6" y2="517.9" stroke="#555" stroke-width="0.9"/>
<line x1="92.1" y1="512.6" x2="94.6" y2="512.6" stroke="#555" stroke-width="0.9"/>
<line x1="92.1" y1="508.5" x2="94.6" y2="508.5" stroke="#555" stroke-width="0.9"/>
<line x1="92.1" y1="505.2" x2="94.6" y2="505.2" stroke="#555" stroke-width="0.9"/>
<line x1="92.1" y1="502.3" x2="94.6" y2="502.3" stroke="#555" stroke-width="0.9"/>
<line x1="92.1" y1="499.9" x2="94.6" y2="499.9" stroke="#555" stroke-width="0.9"/>
<line x1="92.1" y1="497.7" x2="94.6" y2="497.7" stroke="#555" stroke-width="0.9"/>
<line x1="92.1" y1="403.9" x2="94.6" y2="403.9" stroke="#555" stroke-width="0.9"/>
<line x1="92.1" y1="562.3" x2="94.6" y2="562.3" stroke="#555" stroke-width="0.9"/>
<line x1="92.1" y1="567.8" x2="94.6" y2="567.8" stroke="#555" stroke-width="0.9"/>
<line x1="92.1" y1="573.3" x2="94.6" y2="573.3" stroke="#555" stroke-width="0.9"/>
<line x1="92.1" y1="550.8" x2="94.6" y2="550.8" stroke="#555" stroke-width="0.9"/>
<line x1="92.1" y1="544.8" x2="94.6" y2="544.8" stroke="#555" stroke-width="0.9"/>
<line x1="113.4" y1="574.9" x2="113.4" y2="579.4" stroke="#222" stroke-width="1.8"/>
<text x="113.4" y="591.4" font-size="8.4" text-anchor="middle" fill="#444">0</text>
<line x1="132.4" y1="574.9" x2="132.4" y2="579.4" stroke="#555" stroke-width="1"/>
<text x="127.60000000000001" y="591.4" font-size="8.4" fill="#444">10<tspan font-size="5.8" dy="-4.2">2</tspan></text>
<line x1="174" y1="574.9" x2="174" y2="579.4" stroke="#555" stroke-width="1"/>
<text x="169.2" y="591.4" font-size="8.4" fill="#444">10<tspan font-size="5.8" dy="-4.2">3</tspan></text>
<line x1="215.6" y1="574.9" x2="215.6" y2="579.4" stroke="#555" stroke-width="1"/>
<text x="210.79999999999998" y="591.4" font-size="8.4" fill="#444">10<tspan font-size="5.8" dy="-4.2">4</tspan></text>
<line x1="257.5" y1="574.9" x2="257.5" y2="579.4" stroke="#555" stroke-width="1"/>
<text x="252.7" y="591.4" font-size="8.4" fill="#444">10<tspan font-size="5.8" dy="-4.2">5</tspan></text>
<line x1="144.9" y1="574.9" x2="144.9" y2="577.6999999999999" stroke="#555" stroke-width="0.9"/>
<line x1="152.2" y1="574.9" x2="152.2" y2="577.6999999999999" stroke="#555" stroke-width="0.9"/>
<line x1="157.4" y1="574.9" x2="157.4" y2="577.6999999999999" stroke="#555" stroke-width="0.9"/>
<line x1="161.5" y1="574.9" x2="161.5" y2="577.6999999999999" stroke="#555" stroke-width="0.9"/>
<line x1="164.8" y1="574.9" x2="164.8" y2="577.6999999999999" stroke="#555" stroke-width="0.9"/>
<line x1="167.6" y1="574.9" x2="167.6" y2="577.6999999999999" stroke="#555" stroke-width="0.9"/>
<line x1="170.0" y1="574.9" x2="170.0" y2="577.6999999999999" stroke="#555" stroke-width="0.9"/>
<line x1="172.1" y1="574.9" x2="172.1" y2="577.6999999999999" stroke="#555" stroke-width="0.9"/>
<line x1="186.5" y1="574.9" x2="186.5" y2="577.6999999999999" stroke="#555" stroke-width="0.9"/>
<line x1="193.8" y1="574.9" x2="193.8" y2="577.6999999999999" stroke="#555" stroke-width="0.9"/>
<line x1="199.0" y1="574.9" x2="199.0" y2="577.6999999999999" stroke="#555" stroke-width="0.9"/>
<line x1="203.1" y1="574.9" x2="203.1" y2="577.6999999999999" stroke="#555" stroke-width="0.9"/>
<line x1="206.4" y1="574.9" x2="206.4" y2="577.6999999999999" stroke="#555" stroke-width="0.9"/>
<line x1="209.2" y1="574.9" x2="209.2" y2="577.6999999999999" stroke="#555" stroke-width="0.9"/>
<line x1="211.6" y1="574.9" x2="211.6" y2="577.6999999999999" stroke="#555" stroke-width="0.9"/>
<line x1="213.7" y1="574.9" x2="213.7" y2="577.6999999999999" stroke="#555" stroke-width="0.9"/>
<line x1="228.2" y1="574.9" x2="228.2" y2="577.6999999999999" stroke="#555" stroke-width="0.9"/>
<line x1="235.6" y1="574.9" x2="235.6" y2="577.6999999999999" stroke="#555" stroke-width="0.9"/>
<line x1="240.8" y1="574.9" x2="240.8" y2="577.6999999999999" stroke="#555" stroke-width="0.9"/>
<line x1="244.9" y1="574.9" x2="244.9" y2="577.6999999999999" stroke="#555" stroke-width="0.9"/>
<line x1="248.2" y1="574.9" x2="248.2" y2="577.6999999999999" stroke="#555" stroke-width="0.9"/>
<line x1="251.0" y1="574.9" x2="251.0" y2="577.6999999999999" stroke="#555" stroke-width="0.9"/>
<line x1="253.4" y1="574.9" x2="253.4" y2="577.6999999999999" stroke="#555" stroke-width="0.9"/>
<line x1="255.6" y1="574.9" x2="255.6" y2="577.6999999999999" stroke="#555" stroke-width="0.9"/>
<line x1="107.9" y1="574.9" x2="107.9" y2="577.6999999999999" stroke="#555" stroke-width="0.9"/>
<line x1="102.4" y1="574.9" x2="102.4" y2="577.6999999999999" stroke="#555" stroke-width="0.9"/>
<line x1="96.9" y1="574.9" x2="96.9" y2="577.6999999999999" stroke="#555" stroke-width="0.9"/>
<line x1="118.9" y1="574.9" x2="118.9" y2="577.6999999999999" stroke="#555" stroke-width="0.9"/>
<line x1="124.4" y1="574.9" x2="124.4" y2="577.6999999999999" stroke="#555" stroke-width="0.9"/>
<line x1="270.1" y1="574.9" x2="270.1" y2="577.6999999999999" stroke="#555" stroke-width="0.9"/>
<path d="M390.5 523.9h1v1h-1zM346.9 541.4h1v1h-1zM359.4 551.8h1v1h-1zM368.0 536.9h1v1h-1zM358.4 562.8h1v1h-1zM346.0 555.2h1v1h-1zM345.6 542.5h1v1h-1zM370.9 544.5h1v1h-1zM365.3 534.0h1v1h-1zM355.1 539.7h1v1h-1zM356.4 536.5h1v1h-1zM350.6 541.4h1v1h-1zM365.1 538.6h1v1h-1zM377.3 530.5h1v1h-1zM363.1 534.6h1v1h-1zM363.1 543.7h1v1h-1zM364.3 533.7h1v1h-1zM369.9 544.6h1v1h-1zM348.1 553.0h1v1h-1zM338.1 540.3h1v1h-1zM362.2 527.1h1v1h-1zM374.1 530.3h1v1h-1zM368.9 520.6h1v1h-1zM351.9 531.3h1v1h-1zM359.1 536.0h1v1h-1zM363.4 544.8h1v1h-1zM352.1 542.8h1v1h-1zM359.4 531.0h1v1h-1zM363.1 541.5h1v1h-1zM360.4 552.5h1v1h-1zM365.7 539.7h1v1h-1zM346.5 549.6h1v1h-1zM332.8 564.4h1v1h-1zM351.6 555.3h1v1h-1zM378.8 526.9h1v1h-1zM391.3 540.8h1v1h-1zM362.7 541.2h1v1h-1zM384.6 539.2h1v1h-1zM379.0 521.9h1v1h-1zM374.3 533.7h1v1h-1zM388.1 530.8h1v1h-1zM348.5 541.7h1v1h-1zM348.7 545.4h1v1h-1zM346.5 559.8h1v1h-1zM355.9 545.1h1v1h-1zM358.7 547.5h1v1h-1zM375.3 546.4h1v1h-1zM359.1 540.9h1v1h-1zM348.8 547.1h1v1h-1zM355.6 544.5h1v1h-1zM354.4 541.9h1v1h-1zM385.0 544.4h1v1h-1zM365.6 541.0h1v1h-1zM335.4 544.5h1v1h-1zM365.8 536.7h1v1h-1zM348.2 562.6h1v1h-1zM337.9 549.9h1v1h-1zM371.1 549.1h1v1h-1zM362.5 537.8h1v1h-1zM356.2 533.6h1v1h-1zM359.2 555.0h1v1h-1zM367.5 532.9h1v1h-1zM343.7 540.1h1v1h-1zM354.1 557.9h1v1h-1zM349.2 541.8h1v1h-1zM350.9 538.7h1v1h-1zM375.2 540.4h1v1h-1zM366.2 539.9h1v1h-1zM368.9 533.8h1v1h-1zM370.9 534.5h1v1h-1zM338.2 533.3h1v1h-1zM348.2 548.6h1v1h-1zM337.6 551.5h1v1h-1zM333.2 542.2h1v1h-1zM364.1 546.7h1v1h-1zM365.9 532.9h1v1h-1zM360.1 548.1h1v1h-1zM339.0 550.0h1v1h-1zM373.2 547.8h1v1h-1zM355.6 531.2h1v1h-1zM361.6 539.9h1v1h-1zM366.0 531.3h1v1h-1zM347.5 545.5h1v1h-1zM357.9 557.7h1v1h-1zM356.4 540.5h1v1h-1zM358.0 547.6h1v1h-1zM343.0 539.8h1v1h-1zM336.4 551.2h1v1h-1zM353.2 529.0h1v1h-1zM366.9 533.6h1v1h-1zM366.0 528.7h1v1h-1zM331.2 545.4h1v1h-1zM365.1 553.9h1v1h-1zM363.9 534.2h1v1h-1zM349.3 551.4h1v1h-1zM376.3 545.4h1v1h-1zM342.9 543.1h1v1h-1zM371.0 546.4h1v1h-1zM359.8 533.2h1v1h-1zM367.3 547.8h1v1h-1zM348.0 542.9h1v1h-1zM348.0 542.6h1v1h-1zM373.3 538.6h1v1h-1zM349.0 548.6h1v1h-1zM368.2 531.5h1v1h-1zM354.6 548.9h1v1h-1zM361.7 550.6h1v1h-1zM343.9 550.7h1v1h-1zM339.0 543.5h1v1h-1zM379.9 543.5h1v1h-1zM357.6 545.4h1v1h-1zM341.5 554.8h1v1h-1zM350.5 536.9h1v1h-1zM387.7 528.2h1v1h-1zM360.5 539.5h1v1h-1zM375.0 524.1h1v1h-1zM378.2 542.4h1v1h-1zM343.1 543.8h1v1h-1zM364.5 530.7h1v1h-1zM354.1 550.8h1v1h-1zM357.9 536.1h1v1h-1zM370.6 535.6h1v1h-1zM368.1 529.3h1v1h-1zM351.5 536.3h1v1h-1zM373.3 547.1h1v1h-1zM391.6 548.7h1v1h-1zM364.9 540.4h1v1h-1zM382.5 526.3h1v1h-1zM346.0 527.9h1v1h-1zM351.3 538.8h1v1h-1zM365.2 519.7h1v1h-1zM345.5 545.5h1v1h-1zM339.7 531.6h1v1h-1zM343.0 533.4h1v1h-1zM345.3 543.3h1v1h-1zM366.6 539.9h1v1h-1zM344.4 546.5h1v1h-1zM360.9 541.1h1v1h-1zM379.0 537.3h1v1h-1zM347.8 529.0h1v1h-1zM360.5 540.0h1v1h-1zM350.3 544.0h1v1h-1zM365.2 541.4h1v1h-1zM368.9 547.2h1v1h-1zM348.0 554.7h1v1h-1zM375.5 519.7h1v1h-1zM391.6 541.6h1v1h-1zM342.2 534.9h1v1h-1zM366.9 533.9h1v1h-1zM340.6 540.5h1v1h-1zM381.4 543.0h1v1h-1zM351.0 550.9h1v1h-1zM381.9 527.6h1v1h-1zM371.9 526.3h1v1h-1zM379.3 520.5h1v1h-1zM356.5 538.8h1v1h-1zM387.9 554.4h1v1h-1zM340.0 552.5h1v1h-1zM344.4 548.4h1v1h-1zM359.7 522.4h1v1h-1zM356.3 547.1h1v1h-1zM369.2 550.9h1v1h-1zM359.6 546.4h1v1h-1zM383.3 535.7h1v1h-1zM369.8 547.0h1v1h-1zM364.7 529.7h1v1h-1zM362.7 542.7h1v1h-1zM347.2 537.3h1v1h-1zM355.7 549.4h1v1h-1zM363.2 547.1h1v1h-1zM373.9 544.3h1v1h-1zM382.2 533.8h1v1h-1zM374.2 544.4h1v1h-1zM349.0 551.1h1v1h-1zM351.5 545.4h1v1h-1zM374.2 532.1h1v1h-1zM379.3 544.0h1v1h-1zM360.8 563.6h1v1h-1zM362.6 537.7h1v1h-1zM346.7 551.3h1v1h-1zM351.2 536.2h1v1h-1zM349.8 547.8h1v1h-1zM360.6 534.7h1v1h-1zM377.1 546.1h1v1h-1zM354.9 541.6h1v1h-1zM364.3 549.3h1v1h-1zM356.2 540.1h1v1h-1zM354.1 550.1h1v1h-1zM361.7 548.7h1v1h-1zM356.8 544.9h1v1h-1zM383.7 543.7h1v1h-1zM357.3 537.0h1v1h-1zM353.5 547.7h1v1h-1zM359.5 552.9h1v1h-1zM383.0 531.2h1v1h-1zM371.8 537.5h1v1h-1zM391.6 521.1h1v1h-1zM369.9 540.5h1v1h-1zM346.5 539.4h1v1h-1zM345.8 540.9h1v1h-1zM348.6 552.2h1v1h-1zM348.6 538.8h1v1h-1zM376.9 527.2h1v1h-1zM361.7 536.2h1v1h-1zM358.5 550.8h1v1h-1zM368.4 532.1h1v1h-1zM382.5 534.2h1v1h-1zM355.8 537.5h1v1h-1zM354.1 542.4h1v1h-1zM379.8 522.1h1v1h-1zM344.5 541.4h1v1h-1zM347.9 544.8h1v1h-1zM366.4 536.2h1v1h-1zM375.9 547.8h1v1h-1zM370.1 539.6h1v1h-1zM360.9 543.1h1v1h-1zM378.4 534.3h1v1h-1zM374.1 545.9h1v1h-1zM353.8 548.2h1v1h-1zM381.4 533.9h1v1h-1zM373.3 541.4h1v1h-1zM364.4 543.0h1v1h-1zM364.2 518.6h1v1h-1zM364.5 534.5h1v1h-1zM362.7 540.0h1v1h-1z" fill="#222"/>
<path d="M370.8 539.0h1v1h-1zM342.2 549.6h1v1h-1zM352.6 540.4h1v1h-1zM357.9 532.8h1v1h-1zM345.1 546.6h1v1h-1zM370.4 520.8h1v1h-1zM348.5 553.0h1v1h-1zM365.6 547.9h1v1h-1zM371.3 536.0h1v1h-1zM364.3 534.9h1v1h-1zM366.9 528.4h1v1h-1zM376.2 534.7h1v1h-1zM379.9 534.6h1v1h-1zM346.1 543.1h1v1h-1zM355.9 561.8h1v1h-1zM359.1 529.2h1v1h-1zM359.5 541.8h1v1h-1zM370.7 548.2h1v1h-1zM359.7 536.6h1v1h-1zM344.3 534.7h1v1h-1zM344.8 544.3h1v1h-1zM348.0 552.6h1v1h-1zM360.9 538.0h1v1h-1zM363.3 550.9h1v1h-1zM367.7 549.7h1v1h-1zM377.0 539.6h1v1h-1zM358.3 540.7h1v1h-1zM351.2 556.9h1v1h-1zM369.9 541.9h1v1h-1zM388.4 539.6h1v1h-1zM337.2 548.9h1v1h-1zM367.3 535.4h1v1h-1zM350.5 539.3h1v1h-1zM347.3 537.1h1v1h-1zM347.3 560.1h1v1h-1zM335.2 528.6h1v1h-1zM358.9 545.2h1v1h-1zM342.8 544.3h1v1h-1zM347.5 529.7h1v1h-1zM377.3 532.0h1v1h-1zM343.9 528.8h1v1h-1zM363.6 536.3h1v1h-1zM366.3 524.3h1v1h-1zM369.4 541.9h1v1h-1zM351.6 549.3h1v1h-1zM392.0 535.9h1v1h-1zM365.9 533.2h1v1h-1zM376.2 521.0h1v1h-1zM366.2 532.7h1v1h-1zM336.9 542.9h1v1h-1zM355.5 536.4h1v1h-1zM361.6 535.7h1v1h-1zM356.7 525.2h1v1h-1zM360.6 535.6h1v1h-1zM368.6 526.1h1v1h-1zM378.5 527.5h1v1h-1zM363.0 523.4h1v1h-1zM353.1 534.4h1v1h-1zM367.4 544.7h1v1h-1zM346.4 555.5h1v1h-1zM337.3 538.5h1v1h-1zM341.5 549.4h1v1h-1zM360.7 524.0h1v1h-1zM352.0 523.9h1v1h-1zM334.7 521.7h1v1h-1zM345.8 551.2h1v1h-1zM390.1 531.8h1v1h-1zM356.1 541.4h1v1h-1zM363.1 551.2h1v1h-1zM349.1 546.6h1v1h-1zM370.1 546.1h1v1h-1zM360.8 544.2h1v1h-1zM333.0 534.5h1v1h-1zM386.7 548.5h1v1h-1zM378.1 537.9h1v1h-1zM354.2 528.1h1v1h-1zM377.4 557.5h1v1h-1zM352.2 548.5h1v1h-1zM340.9 530.0h1v1h-1zM365.3 544.9h1v1h-1zM366.3 538.0h1v1h-1zM357.4 541.1h1v1h-1zM354.5 541.8h1v1h-1zM341.4 525.9h1v1h-1zM368.3 512.2h1v1h-1zM332.0 556.8h1v1h-1zM375.6 532.8h1v1h-1zM372.1 548.0h1v1h-1zM370.9 545.8h1v1h-1zM371.7 547.4h1v1h-1zM359.5 543.5h1v1h-1zM379.6 545.3h1v1h-1zM369.0 532.4h1v1h-1zM365.2 541.8h1v1h-1zM378.2 543.7h1v1h-1zM374.3 540.7h1v1h-1zM355.7 549.8h1v1h-1zM332.3 560.2h1v1h-1zM367.1 543.4h1v1h-1zM348.7 561.9h1v1h-1zM359.2 540.0h1v1h-1zM357.8 539.4h1v1h-1zM348.9 526.1h1v1h-1zM351.1 560.5h1v1h-1zM364.6 553.7h1v1h-1zM363.4 536.2h1v1h-1zM358.0 550.8h1v1h-1zM346.5 530.2h1v1h-1zM367.3 541.3h1v1h-1zM354.5 546.3h1v1h-1zM355.6 532.1h1v1h-1zM334.2 532.0h1v1h-1zM342.8 543.2h1v1h-1zM357.9 557.1h1v1h-1zM367.7 529.5h1v1h-1zM369.7 546.6h1v1h-1zM377.3 532.8h1v1h-1zM366.4 545.6h1v1h-1zM356.4 537.5h1v1h-1zM365.4 530.0h1v1h-1zM368.8 548.4h1v1h-1zM372.8 534.9h1v1h-1zM379.8 529.4h1v1h-1zM366.5 537.8h1v1h-1zM347.7 542.9h1v1h-1zM364.5 525.1h1v1h-1zM361.7 540.5h1v1h-1zM366.3 542.5h1v1h-1zM350.8 548.2h1v1h-1zM355.6 544.8h1v1h-1zM346.9 532.9h1v1h-1zM344.9 551.9h1v1h-1zM360.9 538.4h1v1h-1zM378.5 532.6h1v1h-1zM354.7 550.0h1v1h-1zM353.9 543.2h1v1h-1zM337.9 538.1h1v1h-1zM376.7 553.4h1v1h-1zM358.3 532.6h1v1h-1zM359.9 541.5h1v1h-1zM359.6 550.5h1v1h-1zM361.8 537.6h1v1h-1zM360.8 528.1h1v1h-1zM352.5 547.2h1v1h-1zM340.3 539.8h1v1h-1zM353.4 537.6h1v1h-1zM377.7 544.8h1v1h-1zM361.8 543.6h1v1h-1zM363.6 554.5h1v1h-1zM352.8 530.1h1v1h-1zM338.5 552.4h1v1h-1zM378.1 542.1h1v1h-1zM374.7 552.5h1v1h-1zM356.0 548.0h1v1h-1zM358.5 547.2h1v1h-1zM344.9 540.0h1v1h-1zM341.1 544.4h1v1h-1zM351.1 550.3h1v1h-1zM345.2 542.5h1v1h-1zM348.2 547.1h1v1h-1zM351.5 550.4h1v1h-1zM365.8 539.1h1v1h-1zM333.8 539.8h1v1h-1zM356.2 538.5h1v1h-1zM362.4 545.9h1v1h-1zM363.7 540.5h1v1h-1zM370.7 534.8h1v1h-1zM367.7 528.6h1v1h-1zM364.3 536.4h1v1h-1zM362.6 543.5h1v1h-1zM379.6 531.6h1v1h-1zM355.4 520.9h1v1h-1zM353.8 536.2h1v1h-1zM335.0 537.0h1v1h-1zM343.3 550.4h1v1h-1zM372.9 544.1h1v1h-1zM350.1 539.5h1v1h-1zM349.1 552.2h1v1h-1zM356.6 535.4h1v1h-1zM354.9 544.1h1v1h-1zM358.4 532.3h1v1h-1zM361.8 527.7h1v1h-1zM347.9 531.3h1v1h-1zM334.1 537.4h1v1h-1zM341.9 548.9h1v1h-1zM375.8 545.2h1v1h-1zM341.3 535.7h1v1h-1zM355.2 547.7h1v1h-1zM368.9 532.7h1v1h-1zM336.0 541.8h1v1h-1zM361.1 537.2h1v1h-1zM367.3 546.2h1v1h-1zM359.7 539.9h1v1h-1zM364.7 545.9h1v1h-1zM363.9 535.7h1v1h-1zM349.5 539.2h1v1h-1zM344.2 534.1h1v1h-1zM361.6 527.7h1v1h-1zM354.2 548.0h1v1h-1zM356.8 537.8h1v1h-1zM364.6 533.2h1v1h-1zM377.3 549.9h1v1h-1zM362.7 540.7h1v1h-1zM358.0 530.5h1v1h-1zM387.8 529.9h1v1h-1zM367.7 543.2h1v1h-1zM379.7 541.2h1v1h-1zM362.1 543.0h1v1h-1zM383.6 553.8h1v1h-1zM378.3 528.7h1v1h-1zM364.5 540.3h1v1h-1zM346.4 552.7h1v1h-1zM357.6 527.9h1v1h-1zM349.3 545.3h1v1h-1zM350.9 537.8h1v1h-1zM354.2 544.7h1v1h-1zM356.2 531.7h1v1h-1zM350.2 539.9h1v1h-1zM373.8 527.8h1v1h-1z" fill="#777"/>
<path d="M350.2 541.8h1v1h-1zM339.4 538.2h1v1h-1zM336.1 543.1h1v1h-1zM337.6 541.0h1v1h-1zM392.6 542.9h1v1h-1zM383.2 534.7h1v1h-1zM344.9 547.2h1v1h-1zM360.1 541.7h1v1h-1zM379.6 535.6h1v1h-1zM353.6 538.0h1v1h-1zM346.0 537.5h1v1h-1zM364.7 529.5h1v1h-1zM358.8 536.8h1v1h-1zM349.4 544.2h1v1h-1zM356.8 545.6h1v1h-1zM369.7 533.5h1v1h-1zM356.7 561.6h1v1h-1zM352.9 557.8h1v1h-1zM349.2 545.8h1v1h-1zM370.1 553.5h1v1h-1zM364.7 541.1h1v1h-1zM346.3 525.7h1v1h-1zM342.9 540.3h1v1h-1zM358.1 549.0h1v1h-1zM346.5 542.0h1v1h-1zM356.6 545.6h1v1h-1zM367.6 529.9h1v1h-1zM346.6 550.3h1v1h-1zM343.6 552.9h1v1h-1zM357.9 540.3h1v1h-1zM390.7 540.7h1v1h-1zM359.8 553.6h1v1h-1zM338.4 537.2h1v1h-1zM351.4 548.6h1v1h-1zM356.1 538.8h1v1h-1zM356.3 536.7h1v1h-1zM369.6 548.7h1v1h-1zM373.1 550.2h1v1h-1zM356.4 541.4h1v1h-1zM364.2 541.5h1v1h-1zM365.0 543.6h1v1h-1zM357.3 531.7h1v1h-1zM371.4 559.1h1v1h-1zM368.0 538.4h1v1h-1zM357.9 547.8h1v1h-1zM371.0 547.7h1v1h-1zM361.3 551.9h1v1h-1zM353.2 544.0h1v1h-1zM389.0 529.9h1v1h-1zM365.6 546.6h1v1h-1zM356.4 551.2h1v1h-1zM343.7 547.1h1v1h-1zM351.7 538.1h1v1h-1zM358.6 548.3h1v1h-1zM376.6 526.2h1v1h-1zM382.3 534.4h1v1h-1zM367.3 539.0h1v1h-1zM360.5 554.3h1v1h-1zM336.2 540.9h1v1h-1zM368.6 547.9h1v1h-1zM361.7 531.9h1v1h-1zM344.6 557.3h1v1h-1zM392.1 543.3h1v1h-1zM373.3 557.4h1v1h-1zM365.2 542.7h1v1h-1zM372.7 519.8h1v1h-1zM376.4 550.7h1v1h-1zM370.1 543.9h1v1h-1zM340.4 561.3h1v1h-1zM345.5 529.8h1v1h-1zM358.8 539.8h1v1h-1zM343.4 539.1h1v1h-1zM363.7 561.0h1v1h-1zM375.7 538.6h1v1h-1zM337.1 556.9h1v1h-1zM355.3 527.5h1v1h-1zM354.9 544.3h1v1h-1zM357.8 528.7h1v1h-1zM387.7 528.7h1v1h-1zM368.6 552.2h1v1h-1zM361.4 542.3h1v1h-1zM355.1 541.6h1v1h-1zM344.6 553.7h1v1h-1zM352.1 550.8h1v1h-1zM347.9 525.6h1v1h-1zM363.1 539.6h1v1h-1zM367.2 542.0h1v1h-1zM358.8 549.1h1v1h-1zM351.1 534.3h1v1h-1zM368.9 537.4h1v1h-1zM364.2 541.4h1v1h-1zM368.9 535.6h1v1h-1zM369.4 545.3h1v1h-1zM338.5 544.7h1v1h-1zM391.7 528.2h1v1h-1zM364.9 536.2h1v1h-1zM341.6 544.8h1v1h-1zM353.8 532.8h1v1h-1zM370.9 540.6h1v1h-1zM365.9 553.3h1v1h-1zM348.1 544.2h1v1h-1zM350.9 533.4h1v1h-1zM348.0 551.1h1v1h-1zM357.2 545.3h1v1h-1zM369.4 529.2h1v1h-1zM346.9 530.1h1v1h-1zM353.2 552.3h1v1h-1zM343.2 551.4h1v1h-1zM375.3 528.9h1v1h-1zM345.7 539.0h1v1h-1zM381.0 542.6h1v1h-1zM354.8 538.8h1v1h-1zM351.2 535.7h1v1h-1zM369.5 530.0h1v1h-1zM350.7 546.3h1v1h-1zM363.5 537.4h1v1h-1zM350.5 556.0h1v1h-1zM340.6 551.9h1v1h-1zM380.5 529.2h1v1h-1zM363.2 538.4h1v1h-1zM348.0 546.8h1v1h-1zM333.2 540.1h1v1h-1zM356.7 549.2h1v1h-1zM345.2 533.9h1v1h-1zM378.8 548.2h1v1h-1zM365.9 537.6h1v1h-1zM388.7 518.5h1v1h-1zM359.8 540.2h1v1h-1zM340.9 536.1h1v1h-1zM362.8 527.3h1v1h-1zM351.5 535.3h1v1h-1zM353.9 525.7h1v1h-1zM353.9 536.5h1v1h-1zM357.1 547.2h1v1h-1zM366.9 524.9h1v1h-1zM372.8 547.3h1v1h-1zM357.1 555.1h1v1h-1zM357.5 543.4h1v1h-1zM346.4 546.3h1v1h-1zM344.5 532.6h1v1h-1zM384.2 545.3h1v1h-1zM371.5 539.5h1v1h-1zM350.7 545.7h1v1h-1zM375.0 524.6h1v1h-1zM372.4 540.4h1v1h-1zM343.5 547.8h1v1h-1zM382.7 547.4h1v1h-1zM350.2 534.1h1v1h-1zM366.3 545.2h1v1h-1zM359.4 528.4h1v1h-1zM365.4 544.1h1v1h-1zM371.7 519.7h1v1h-1zM374.8 529.0h1v1h-1zM392.5 530.8h1v1h-1zM340.4 554.5h1v1h-1zM333.8 560.7h1v1h-1zM366.5 550.2h1v1h-1zM355.9 548.3h1v1h-1zM359.6 549.3h1v1h-1zM347.0 544.8h1v1h-1zM347.5 543.3h1v1h-1zM384.1 539.6h1v1h-1zM360.3 540.5h1v1h-1zM361.3 529.6h1v1h-1zM348.0 547.5h1v1h-1zM354.0 539.4h1v1h-1zM351.4 539.5h1v1h-1zM373.5 528.5h1v1h-1zM375.3 532.3h1v1h-1zM356.6 535.7h1v1h-1zM340.3 523.4h1v1h-1zM379.2 551.0h1v1h-1zM359.7 530.6h1v1h-1zM370.8 535.9h1v1h-1zM364.7 527.2h1v1h-1zM349.7 537.8h1v1h-1zM365.3 541.3h1v1h-1zM338.6 544.9h1v1h-1zM367.0 536.4h1v1h-1zM355.5 529.3h1v1h-1zM353.3 535.6h1v1h-1zM372.1 547.7h1v1h-1zM357.6 554.5h1v1h-1zM360.3 537.1h1v1h-1zM390.5 556.7h1v1h-1zM347.8 541.0h1v1h-1zM355.3 551.0h1v1h-1zM377.0 530.8h1v1h-1zM358.2 538.7h1v1h-1zM348.0 550.5h1v1h-1zM341.9 534.3h1v1h-1zM374.0 529.6h1v1h-1zM348.0 538.8h1v1h-1zM390.6 520.8h1v1h-1zM378.6 557.4h1v1h-1zM350.9 531.0h1v1h-1zM336.6 558.5h1v1h-1zM373.7 544.9h1v1h-1zM367.9 539.4h1v1h-1zM361.4 535.8h1v1h-1zM343.8 543.4h1v1h-1zM353.0 548.2h1v1h-1zM347.9 545.7h1v1h-1zM352.2 537.1h1v1h-1zM347.7 543.6h1v1h-1zM386.2 541.4h1v1h-1zM356.4 542.7h1v1h-1zM352.4 558.0h1v1h-1zM333.6 537.0h1v1h-1zM373.6 561.6h1v1h-1zM331.3 530.9h1v1h-1zM372.8 544.4h1v1h-1zM338.2 546.6h1v1h-1zM362.5 534.7h1v1h-1zM349.7 531.1h1v1h-1zM369.1 541.2h1v1h-1zM371.0 533.3h1v1h-1zM359.8 546.0h1v1h-1zM382.0 548.9h1v1h-1zM364.9 561.4h1v1h-1zM337.4 540.7h1v1h-1zM380.6 526.8h1v1h-1zM355.1 550.5h1v1h-1zM356.5 540.3h1v1h-1z" fill="#444"/>
<path d="M357.7 542.6h1v1h-1zM363.8 537.3h1v1h-1zM354.0 530.2h1v1h-1zM373.2 531.1h1v1h-1zM352.5 539.2h1v1h-1zM348.3 544.4h1v1h-1zM359.8 552.0h1v1h-1zM358.8 544.0h1v1h-1zM356.0 542.6h1v1h-1zM388.2 539.2h1v1h-1zM345.5 562.5h1v1h-1zM381.7 539.4h1v1h-1zM346.5 548.6h1v1h-1zM361.7 535.0h1v1h-1zM358.2 524.7h1v1h-1zM375.6 537.7h1v1h-1zM349.5 558.1h1v1h-1zM348.3 553.2h1v1h-1zM354.4 524.8h1v1h-1zM382.9 526.5h1v1h-1zM362.0 533.7h1v1h-1zM385.4 529.0h1v1h-1zM375.8 537.5h1v1h-1zM363.9 531.8h1v1h-1zM341.3 539.2h1v1h-1zM368.2 553.6h1v1h-1zM358.1 536.8h1v1h-1zM363.4 536.4h1v1h-1zM372.7 545.3h1v1h-1zM363.9 531.2h1v1h-1zM355.5 523.7h1v1h-1zM370.8 534.8h1v1h-1zM369.5 549.4h1v1h-1zM350.6 541.6h1v1h-1zM360.3 536.6h1v1h-1zM364.0 540.7h1v1h-1zM380.6 524.0h1v1h-1zM358.3 538.5h1v1h-1zM367.6 532.5h1v1h-1zM336.4 553.6h1v1h-1zM356.5 536.2h1v1h-1zM366.2 537.2h1v1h-1zM349.1 538.5h1v1h-1zM332.5 537.6h1v1h-1zM338.0 538.9h1v1h-1zM352.3 547.4h1v1h-1zM386.4 529.0h1v1h-1zM382.6 536.8h1v1h-1zM360.6 540.0h1v1h-1zM361.4 550.3h1v1h-1zM334.9 545.9h1v1h-1zM376.3 515.7h1v1h-1zM374.6 538.4h1v1h-1zM346.2 539.0h1v1h-1zM342.1 546.8h1v1h-1zM331.1 558.4h1v1h-1zM342.9 547.0h1v1h-1zM359.4 539.5h1v1h-1zM348.0 550.4h1v1h-1zM351.3 542.1h1v1h-1zM379.5 553.6h1v1h-1zM353.0 543.8h1v1h-1zM346.2 539.7h1v1h-1zM339.7 544.4h1v1h-1zM350.9 534.8h1v1h-1zM376.9 542.8h1v1h-1zM352.4 551.4h1v1h-1zM379.8 537.1h1v1h-1zM345.3 538.6h1v1h-1zM344.1 537.4h1v1h-1zM373.7 538.6h1v1h-1zM336.0 551.9h1v1h-1zM344.0 544.1h1v1h-1zM351.3 546.6h1v1h-1zM377.4 528.8h1v1h-1zM360.2 532.7h1v1h-1zM338.4 554.2h1v1h-1zM380.9 536.9h1v1h-1zM362.9 527.3h1v1h-1zM350.3 528.6h1v1h-1zM343.7 533.2h1v1h-1zM375.0 531.5h1v1h-1zM354.3 547.0h1v1h-1zM339.5 545.4h1v1h-1zM364.6 539.5h1v1h-1zM371.9 540.8h1v1h-1zM349.3 534.8h1v1h-1zM371.0 525.2h1v1h-1zM331.2 540.0h1v1h-1zM364.6 529.8h1v1h-1zM356.1 550.4h1v1h-1zM350.1 548.8h1v1h-1zM348.6 513.8h1v1h-1zM348.2 545.5h1v1h-1zM348.1 541.7h1v1h-1zM348.1 535.4h1v1h-1zM363.2 529.4h1v1h-1zM359.1 531.2h1v1h-1zM363.1 552.4h1v1h-1zM361.5 528.7h1v1h-1zM336.5 546.8h1v1h-1zM365.7 537.1h1v1h-1zM378.2 518.3h1v1h-1zM336.2 537.4h1v1h-1zM354.1 550.6h1v1h-1zM367.7 537.0h1v1h-1zM382.4 528.8h1v1h-1zM365.8 546.5h1v1h-1zM361.4 552.7h1v1h-1zM367.8 523.8h1v1h-1zM366.5 558.6h1v1h-1zM377.0 541.0h1v1h-1zM373.5 537.6h1v1h-1zM354.3 539.7h1v1h-1zM357.0 550.4h1v1h-1zM364.6 542.4h1v1h-1zM344.1 546.6h1v1h-1zM346.0 549.5h1v1h-1zM359.5 521.4h1v1h-1zM347.2 554.8h1v1h-1zM345.6 535.6h1v1h-1zM347.1 545.6h1v1h-1zM354.1 552.2h1v1h-1zM350.8 541.6h1v1h-1zM356.5 530.4h1v1h-1zM371.5 532.0h1v1h-1zM341.5 560.5h1v1h-1zM363.4 535.2h1v1h-1zM351.3 557.3h1v1h-1zM367.7 523.1h1v1h-1zM345.5 557.6h1v1h-1zM356.7 538.8h1v1h-1zM370.5 542.3h1v1h-1zM346.6 544.4h1v1h-1zM369.8 531.2h1v1h-1zM367.0 552.3h1v1h-1zM362.2 527.8h1v1h-1zM385.7 519.3h1v1h-1zM361.2 533.7h1v1h-1zM340.6 541.8h1v1h-1zM370.0 550.8h1v1h-1zM371.4 532.6h1v1h-1zM351.0 544.4h1v1h-1zM361.1 538.6h1v1h-1zM369.3 544.4h1v1h-1zM353.2 531.4h1v1h-1zM352.3 536.5h1v1h-1zM381.0 543.3h1v1h-1zM368.4 545.3h1v1h-1zM349.8 544.8h1v1h-1zM342.0 547.0h1v1h-1zM368.4 538.4h1v1h-1zM364.0 548.0h1v1h-1zM350.2 536.4h1v1h-1zM360.5 548.4h1v1h-1zM343.7 539.1h1v1h-1zM344.4 547.5h1v1h-1zM362.2 558.5h1v1h-1zM345.4 531.4h1v1h-1zM344.2 558.9h1v1h-1zM367.9 540.1h1v1h-1zM353.5 538.9h1v1h-1zM376.0 524.9h1v1h-1zM362.0 538.8h1v1h-1zM359.1 553.2h1v1h-1zM341.2 549.6h1v1h-1zM350.8 541.0h1v1h-1zM339.9 556.9h1v1h-1zM390.8 533.7h1v1h-1zM365.9 524.8h1v1h-1zM343.4 535.0h1v1h-1zM338.0 543.8h1v1h-1zM371.4 545.8h1v1h-1zM362.7 534.8h1v1h-1zM376.1 541.0h1v1h-1zM371.0 528.3h1v1h-1zM337.9 540.3h1v1h-1zM345.3 538.8h1v1h-1zM346.6 550.1h1v1h-1zM348.4 522.4h1v1h-1zM364.1 549.5h1v1h-1zM391.4 534.2h1v1h-1zM368.2 519.1h1v1h-1zM370.1 531.5h1v1h-1zM341.7 556.3h1v1h-1zM362.8 541.4h1v1h-1zM377.5 555.8h1v1h-1zM341.0 543.7h1v1h-1zM361.6 544.8h1v1h-1zM369.4 535.7h1v1h-1zM361.4 538.8h1v1h-1zM366.5 541.1h1v1h-1zM340.3 540.6h1v1h-1zM377.6 546.6h1v1h-1zM361.2 560.0h1v1h-1zM369.7 536.0h1v1h-1zM341.9 552.4h1v1h-1zM354.6 536.9h1v1h-1zM368.8 554.4h1v1h-1zM334.5 531.6h1v1h-1zM360.4 546.7h1v1h-1zM341.6 546.0h1v1h-1zM363.0 539.7h1v1h-1zM354.2 545.3h1v1h-1zM344.1 550.7h1v1h-1zM356.8 539.6h1v1h-1zM367.5 533.2h1v1h-1zM358.0 535.0h1v1h-1zM365.8 551.7h1v1h-1zM380.4 533.3h1v1h-1zM357.8 542.8h1v1h-1zM375.0 542.0h1v1h-1zM360.4 528.2h1v1h-1zM340.3 564.1h1v1h-1zM347.8 538.5h1v1h-1zM355.0 541.6h1v1h-1zM343.4 554.0h1v1h-1zM353.2 539.1h1v1h-1zM369.2 539.9h1v1h-1zM353.3 528.0h1v1h-1zM364.5 534.0h1v1h-1zM357.3 535.4h1v1h-1zM356.1 542.6h1v1h-1zM367.1 523.4h1v1h-1zM352.9 538.0h1v1h-1zM354.1 540.4h1v1h-1zM368.5 543.8h1v1h-1zM364.1 542.6h1v1h-1zM354.4 547.2h1v1h-1zM364.6 537.8h1v1h-1zM336.6 544.7h1v1h-1zM357.2 545.5h1v1h-1zM383.2 553.9h1v1h-1zM341.5 554.3h1v1h-1zM374.3 550.9h1v1h-1z" fill="#888"/>
<path d="M354.7 544.1h1v1h-1zM366.5 537.3h1v1h-1zM372.6 540.9h1v1h-1zM363.6 545.2h1v1h-1zM384.8 532.4h1v1h-1zM357.7 550.4h1v1h-1zM360.6 529.2h1v1h-1zM357.9 532.0h1v1h-1zM353.6 557.0h1v1h-1zM334.7 539.7h1v1h-1zM361.8 549.0h1v1h-1zM333.0 563.0h1v1h-1zM374.4 536.2h1v1h-1zM346.6 549.0h1v1h-1zM376.3 516.9h1v1h-1zM350.9 520.6h1v1h-1zM347.7 555.1h1v1h-1zM371.1 541.8h1v1h-1zM358.9 531.1h1v1h-1zM334.4 548.0h1v1h-1zM337.3 542.4h1v1h-1zM352.6 537.3h1v1h-1zM393.1 550.3h1v1h-1zM349.5 546.0h1v1h-1zM366.1 535.1h1v1h-1zM340.7 543.0h1v1h-1zM359.0 552.9h1v1h-1zM359.9 559.9h1v1h-1zM342.2 542.0h1v1h-1zM371.2 550.1h1v1h-1zM378.7 552.7h1v1h-1zM360.8 545.5h1v1h-1zM335.7 536.5h1v1h-1zM351.9 554.2h1v1h-1zM366.8 545.5h1v1h-1zM352.2 534.7h1v1h-1zM380.4 531.8h1v1h-1zM347.4 553.3h1v1h-1zM371.2 522.9h1v1h-1zM336.1 550.2h1v1h-1zM353.9 532.2h1v1h-1zM370.5 539.0h1v1h-1zM343.9 544.5h1v1h-1zM355.4 551.2h1v1h-1zM345.0 561.0h1v1h-1zM345.9 543.4h1v1h-1zM352.5 562.4h1v1h-1zM349.0 549.8h1v1h-1zM377.6 535.6h1v1h-1zM344.2 553.9h1v1h-1zM341.6 546.1h1v1h-1zM367.9 539.3h1v1h-1zM341.0 545.2h1v1h-1zM348.7 553.5h1v1h-1zM372.9 527.1h1v1h-1zM361.1 527.4h1v1h-1zM390.4 524.0h1v1h-1zM352.0 544.1h1v1h-1zM346.2 551.0h1v1h-1zM362.0 543.6h1v1h-1zM375.2 525.0h1v1h-1zM358.6 563.1h1v1h-1zM349.6 555.3h1v1h-1zM392.7 532.5h1v1h-1zM373.6 538.3h1v1h-1zM350.3 533.9h1v1h-1zM376.9 544.2h1v1h-1zM354.0 544.5h1v1h-1zM353.1 551.5h1v1h-1zM361.9 544.8h1v1h-1zM339.1 543.3h1v1h-1zM356.9 552.0h1v1h-1zM360.0 540.7h1v1h-1zM361.7 549.7h1v1h-1zM377.6 542.1h1v1h-1zM373.2 535.0h1v1h-1zM348.2 553.9h1v1h-1zM377.3 536.9h1v1h-1zM362.0 542.1h1v1h-1zM341.2 539.1h1v1h-1zM343.5 557.3h1v1h-1zM354.6 546.7h1v1h-1zM350.2 535.5h1v1h-1zM341.4 549.2h1v1h-1zM350.7 552.4h1v1h-1zM370.6 530.8h1v1h-1zM360.7 542.5h1v1h-1zM363.0 537.9h1v1h-1zM356.9 550.8h1v1h-1zM353.4 539.4h1v1h-1zM364.8 546.4h1v1h-1zM350.6 547.8h1v1h-1zM362.9 535.0h1v1h-1zM371.6 529.8h1v1h-1zM338.0 544.1h1v1h-1zM351.3 542.8h1v1h-1zM357.0 543.4h1v1h-1zM383.8 544.5h1v1h-1zM370.0 530.9h1v1h-1zM360.7 531.6h1v1h-1zM368.6 528.9h1v1h-1zM371.8 532.4h1v1h-1zM349.2 547.2h1v1h-1zM360.0 543.5h1v1h-1zM366.5 547.1h1v1h-1zM372.9 541.8h1v1h-1zM371.1 559.5h1v1h-1zM347.8 532.0h1v1h-1zM363.4 533.5h1v1h-1zM346.4 550.8h1v1h-1zM366.1 552.0h1v1h-1zM380.8 536.1h1v1h-1zM353.5 550.3h1v1h-1zM366.7 540.8h1v1h-1zM349.9 551.0h1v1h-1zM376.2 537.0h1v1h-1zM346.9 560.2h1v1h-1zM373.4 526.9h1v1h-1zM334.5 545.4h1v1h-1zM391.6 548.4h1v1h-1zM354.4 532.1h1v1h-1zM366.9 540.2h1v1h-1zM390.5 537.1h1v1h-1zM364.9 541.4h1v1h-1zM378.5 535.1h1v1h-1zM376.7 529.7h1v1h-1zM338.4 562.7h1v1h-1zM354.1 521.6h1v1h-1zM356.4 553.6h1v1h-1zM365.0 548.7h1v1h-1zM340.2 541.4h1v1h-1zM358.9 537.9h1v1h-1zM340.0 540.7h1v1h-1zM350.4 539.2h1v1h-1zM351.3 544.5h1v1h-1zM383.4 539.9h1v1h-1zM365.5 547.0h1v1h-1zM354.5 553.1h1v1h-1zM352.4 537.7h1v1h-1zM358.6 538.9h1v1h-1zM364.6 531.6h1v1h-1zM363.8 530.1h1v1h-1zM381.3 539.9h1v1h-1zM373.5 547.5h1v1h-1zM350.4 532.9h1v1h-1zM377.0 548.7h1v1h-1zM361.5 536.8h1v1h-1zM358.2 528.0h1v1h-1zM364.0 555.3h1v1h-1zM347.0 543.3h1v1h-1zM366.1 532.3h1v1h-1zM350.2 549.2h1v1h-1zM362.4 545.4h1v1h-1zM348.0 524.2h1v1h-1zM372.9 534.6h1v1h-1zM367.5 546.1h1v1h-1zM375.0 551.5h1v1h-1zM354.4 544.9h1v1h-1zM337.7 550.5h1v1h-1zM342.3 525.1h1v1h-1zM371.3 538.7h1v1h-1zM354.9 552.8h1v1h-1zM366.6 553.1h1v1h-1zM337.3 552.7h1v1h-1zM363.4 542.1h1v1h-1zM358.2 543.3h1v1h-1zM355.7 541.1h1v1h-1zM361.9 541.9h1v1h-1zM338.9 546.2h1v1h-1zM350.0 539.4h1v1h-1zM384.1 545.0h1v1h-1zM372.5 537.8h1v1h-1zM351.3 522.5h1v1h-1zM339.4 561.8h1v1h-1zM342.9 544.7h1v1h-1zM385.7 533.2h1v1h-1zM349.0 549.2h1v1h-1zM346.4 538.1h1v1h-1zM354.5 537.5h1v1h-1zM349.5 546.9h1v1h-1zM336.0 534.0h1v1h-1zM374.9 536.6h1v1h-1zM364.6 515.1h1v1h-1zM350.2 550.1h1v1h-1zM365.9 529.8h1v1h-1zM367.2 540.6h1v1h-1zM367.4 533.4h1v1h-1zM374.8 534.5h1v1h-1zM375.9 536.7h1v1h-1zM353.0 537.2h1v1h-1zM352.8 529.3h1v1h-1zM340.1 538.3h1v1h-1zM349.4 542.3h1v1h-1zM356.4 531.4h1v1h-1zM359.5 555.7h1v1h-1zM354.1 542.2h1v1h-1zM368.2 538.7h1v1h-1zM368.6 536.2h1v1h-1zM359.7 541.5h1v1h-1zM358.9 536.1h1v1h-1zM350.1 535.9h1v1h-1zM341.7 532.8h1v1h-1zM356.8 541.8h1v1h-1zM375.3 546.9h1v1h-1zM360.8 528.1h1v1h-1zM337.8 547.6h1v1h-1zM356.2 542.1h1v1h-1zM375.1 520.6h1v1h-1zM366.2 531.1h1v1h-1zM369.0 529.6h1v1h-1zM356.3 544.9h1v1h-1zM373.2 535.5h1v1h-1zM345.4 545.0h1v1h-1zM364.3 545.8h1v1h-1zM336.2 536.7h1v1h-1zM340.8 530.3h1v1h-1zM339.5 530.7h1v1h-1zM346.7 532.5h1v1h-1zM332.2 555.6h1v1h-1zM334.0 541.1h1v1h-1zM370.5 553.5h1v1h-1zM342.7 554.6h1v1h-1zM372.6 532.4h1v1h-1zM355.0 537.9h1v1h-1zM341.7 549.2h1v1h-1zM354.3 547.5h1v1h-1zM359.3 543.4h1v1h-1zM354.4 548.9h1v1h-1zM346.7 536.0h1v1h-1zM367.6 535.1h1v1h-1zM334.9 552.7h1v1h-1zM359.9 540.3h1v1h-1zM358.3 530.3h1v1h-1z" fill="#111"/>
<path d="M372.0 536.4h1v1h-1zM370.0 536.9h1v1h-1zM363.8 532.5h1v1h-1zM348.2 538.6h1v1h-1zM366.4 538.8h1v1h-1zM356.9 532.3h1v1h-1zM342.0 537.4h1v1h-1zM356.7 532.0h1v1h-1zM348.2 542.0h1v1h-1zM375.3 532.9h1v1h-1zM362.9 550.0h1v1h-1zM374.4 553.3h1v1h-1zM356.8 531.4h1v1h-1zM387.3 537.1h1v1h-1zM355.5 537.6h1v1h-1zM353.7 545.2h1v1h-1zM359.7 541.7h1v1h-1zM357.8 540.4h1v1h-1zM370.9 526.6h1v1h-1zM359.1 547.0h1v1h-1zM344.6 556.6h1v1h-1zM380.0 532.9h1v1h-1zM365.0 535.3h1v1h-1zM362.7 539.3h1v1h-1zM364.2 549.9h1v1h-1zM355.9 532.7h1v1h-1zM359.5 533.9h1v1h-1zM345.1 534.8h1v1h-1zM348.1 537.9h1v1h-1zM365.5 543.8h1v1h-1zM356.6 551.6h1v1h-1zM344.1 559.4h1v1h-1zM334.8 550.4h1v1h-1zM367.9 549.2h1v1h-1zM338.6 554.1h1v1h-1zM363.3 551.2h1v1h-1zM369.1 539.4h1v1h-1zM343.0 544.6h1v1h-1zM365.9 527.9h1v1h-1zM365.9 540.5h1v1h-1zM390.5 511.2h1v1h-1zM337.2 547.7h1v1h-1zM351.8 534.2h1v1h-1zM359.0 541.1h1v1h-1zM376.2 536.0h1v1h-1zM368.9 555.7h1v1h-1zM368.3 532.9h1v1h-1zM332.5 546.3h1v1h-1zM371.0 540.9h1v1h-1zM361.7 531.8h1v1h-1zM343.9 542.2h1v1h-1zM360.3 550.6h1v1h-1zM343.8 548.5h1v1h-1zM346.5 534.0h1v1h-1zM368.8 533.1h1v1h-1zM369.0 538.8h1v1h-1zM363.0 546.1h1v1h-1zM365.3 528.7h1v1h-1zM379.8 549.0h1v1h-1zM351.7 535.0h1v1h-1zM338.0 543.1h1v1h-1zM344.9 539.2h1v1h-1zM375.1 531.9h1v1h-1zM358.1 548.5h1v1h-1zM348.6 552.7h1v1h-1zM367.4 558.5h1v1h-1zM354.7 534.4h1v1h-1zM387.1 534.2h1v1h-1zM367.5 544.0h1v1h-1zM365.6 543.6h1v1h-1zM362.5 549.4h1v1h-1zM382.5 545.6h1v1h-1zM354.3 540.0h1v1h-1zM352.9 541.6h1v1h-1zM368.9 534.8h1v1h-1zM377.2 542.2h1v1h-1zM361.0 543.6h1v1h-1zM362.9 541.2h1v1h-1zM354.9 533.9h1v1h-1zM383.2 534.0h1v1h-1zM364.5 530.9h1v1h-1zM383.4 525.0h1v1h-1zM378.7 537.9h1v1h-1zM347.5 558.9h1v1h-1zM365.4 535.9h1v1h-1zM345.0 551.7h1v1h-1zM341.5 540.9h1v1h-1zM358.7 524.9h1v1h-1zM367.9 515.2h1v1h-1zM367.1 534.4h1v1h-1zM347.9 542.9h1v1h-1zM355.5 531.8h1v1h-1zM367.5 528.5h1v1h-1zM353.3 548.8h1v1h-1zM376.6 540.8h1v1h-1zM365.9 535.7h1v1h-1zM357.0 535.7h1v1h-1zM360.8 537.6h1v1h-1zM370.7 519.2h1v1h-1zM367.3 539.3h1v1h-1zM358.5 539.4h1v1h-1zM374.1 541.8h1v1h-1zM344.6 563.8h1v1h-1zM378.7 532.1h1v1h-1zM338.8 557.4h1v1h-1zM355.8 544.8h1v1h-1zM354.5 553.6h1v1h-1zM374.2 530.0h1v1h-1zM358.6 530.6h1v1h-1zM363.2 564.7h1v1h-1zM351.7 543.8h1v1h-1zM340.9 554.7h1v1h-1zM348.9 537.7h1v1h-1zM358.0 536.7h1v1h-1zM371.7 557.2h1v1h-1zM366.6 540.6h1v1h-1zM350.8 527.9h1v1h-1zM357.2 539.2h1v1h-1zM362.9 538.0h1v1h-1zM353.1 532.2h1v1h-1zM352.9 532.0h1v1h-1zM346.1 535.7h1v1h-1zM345.2 540.8h1v1h-1zM357.1 526.0h1v1h-1zM378.7 548.8h1v1h-1zM375.2 543.9h1v1h-1zM371.5 524.3h1v1h-1zM375.0 527.1h1v1h-1zM362.5 537.6h1v1h-1zM335.5 563.3h1v1h-1zM348.9 542.1h1v1h-1zM349.6 535.5h1v1h-1zM352.7 540.1h1v1h-1zM334.4 536.3h1v1h-1zM375.7 553.7h1v1h-1zM389.1 523.7h1v1h-1zM345.2 556.5h1v1h-1zM332.5 537.4h1v1h-1zM379.3 531.7h1v1h-1zM368.4 538.1h1v1h-1zM355.7 538.6h1v1h-1zM360.3 528.1h1v1h-1zM361.9 554.6h1v1h-1zM387.5 540.3h1v1h-1zM360.7 555.1h1v1h-1zM385.6 523.7h1v1h-1zM344.5 547.2h1v1h-1zM363.2 531.5h1v1h-1zM365.0 536.7h1v1h-1zM350.2 536.5h1v1h-1zM351.6 549.9h1v1h-1zM343.2 530.9h1v1h-1zM334.5 560.6h1v1h-1zM351.9 554.6h1v1h-1zM349.8 526.8h1v1h-1zM350.4 551.7h1v1h-1zM356.5 552.2h1v1h-1zM376.8 531.0h1v1h-1zM355.2 544.7h1v1h-1zM377.0 539.3h1v1h-1zM356.3 552.2h1v1h-1zM339.8 533.9h1v1h-1zM343.8 542.7h1v1h-1zM355.2 536.1h1v1h-1zM346.1 546.7h1v1h-1zM359.3 534.8h1v1h-1zM334.8 531.6h1v1h-1zM370.1 526.9h1v1h-1zM350.5 534.5h1v1h-1zM356.2 553.8h1v1h-1zM361.2 545.7h1v1h-1zM358.2 552.0h1v1h-1zM372.7 539.6h1v1h-1zM358.2 540.0h1v1h-1zM344.2 548.6h1v1h-1zM368.4 522.4h1v1h-1zM371.8 544.9h1v1h-1zM378.6 532.8h1v1h-1zM367.6 547.6h1v1h-1zM350.8 544.9h1v1h-1zM341.0 537.3h1v1h-1zM369.0 545.6h1v1h-1zM364.5 540.4h1v1h-1zM365.5 529.0h1v1h-1zM354.0 541.1h1v1h-1zM333.7 521.6h1v1h-1zM342.8 539.4h1v1h-1zM367.3 554.9h1v1h-1zM345.7 549.2h1v1h-1zM364.3 531.4h1v1h-1zM375.0 540.4h1v1h-1zM367.2 536.0h1v1h-1zM355.8 545.7h1v1h-1zM372.3 532.0h1v1h-1zM368.3 534.4h1v1h-1zM337.7 544.5h1v1h-1zM348.2 560.3h1v1h-1zM367.6 544.3h1v1h-1zM364.1 535.8h1v1h-1zM368.8 519.0h1v1h-1zM365.8 534.5h1v1h-1zM368.0 544.1h1v1h-1zM337.4 560.0h1v1h-1zM342.4 547.3h1v1h-1zM354.4 534.9h1v1h-1zM331.8 537.6h1v1h-1zM378.5 532.3h1v1h-1zM364.6 554.4h1v1h-1zM357.7 535.2h1v1h-1zM374.1 535.1h1v1h-1zM361.9 549.2h1v1h-1zM342.1 524.0h1v1h-1zM352.9 550.6h1v1h-1zM372.9 539.0h1v1h-1zM361.8 548.7h1v1h-1zM388.2 540.1h1v1h-1zM388.0 531.1h1v1h-1zM363.0 539.9h1v1h-1zM378.2 534.8h1v1h-1zM342.9 543.2h1v1h-1zM368.5 544.2h1v1h-1zM354.7 531.7h1v1h-1zM375.3 545.1h1v1h-1zM359.7 537.5h1v1h-1zM360.2 548.0h1v1h-1zM379.3 540.5h1v1h-1z" fill="#666"/>
<path d="M333.3 539.2h1v1h-1zM354.0 537.1h1v1h-1zM361.3 536.5h1v1h-1zM372.6 538.0h1v1h-1zM335.3 547.7h1v1h-1zM355.7 549.8h1v1h-1zM339.2 534.4h1v1h-1zM356.4 544.8h1v1h-1zM365.3 540.5h1v1h-1zM366.1 538.8h1v1h-1zM371.7 539.5h1v1h-1zM336.8 549.2h1v1h-1zM339.0 554.0h1v1h-1zM350.2 534.2h1v1h-1zM361.1 539.9h1v1h-1zM382.1 541.7h1v1h-1zM333.6 547.4h1v1h-1zM364.3 527.5h1v1h-1zM368.6 526.0h1v1h-1zM362.0 525.8h1v1h-1zM340.6 555.0h1v1h-1zM378.1 532.4h1v1h-1zM346.8 548.1h1v1h-1zM341.7 521.4h1v1h-1zM365.2 541.3h1v1h-1zM370.0 544.7h1v1h-1zM362.1 540.0h1v1h-1zM361.4 529.3h1v1h-1zM342.5 543.6h1v1h-1zM371.2 529.9h1v1h-1zM341.0 562.6h1v1h-1zM360.1 548.6h1v1h-1zM367.6 536.9h1v1h-1zM374.6 525.4h1v1h-1zM359.6 527.0h1v1h-1zM381.0 532.9h1v1h-1zM374.9 542.9h1v1h-1zM361.2 553.8h1v1h-1zM349.7 533.0h1v1h-1zM360.2 545.3h1v1h-1zM350.4 553.3h1v1h-1zM368.1 545.6h1v1h-1zM375.0 546.4h1v1h-1zM352.2 563.4h1v1h-1zM349.0 529.1h1v1h-1zM364.0 546.0h1v1h-1zM369.9 529.6h1v1h-1zM340.9 548.8h1v1h-1zM385.2 536.4h1v1h-1zM353.5 545.4h1v1h-1zM376.7 537.6h1v1h-1zM337.6 551.4h1v1h-1zM372.2 542.3h1v1h-1zM377.1 545.1h1v1h-1zM384.2 542.7h1v1h-1zM357.9 543.3h1v1h-1zM348.4 537.5h1v1h-1zM345.6 539.4h1v1h-1zM350.5 552.6h1v1h-1zM361.3 541.9h1v1h-1zM362.5 536.9h1v1h-1zM387.2 522.6h1v1h-1zM338.2 550.1h1v1h-1zM336.2 527.6h1v1h-1zM358.0 551.8h1v1h-1zM353.1 540.9h1v1h-1zM366.5 539.2h1v1h-1zM374.0 545.9h1v1h-1zM364.2 533.9h1v1h-1zM336.4 565.1h1v1h-1zM352.2 558.2h1v1h-1zM372.4 545.2h1v1h-1zM348.9 544.7h1v1h-1zM368.0 549.3h1v1h-1zM349.3 538.7h1v1h-1zM341.1 550.6h1v1h-1zM337.7 547.6h1v1h-1zM362.9 528.9h1v1h-1zM363.7 532.5h1v1h-1zM354.8 557.7h1v1h-1zM360.9 551.4h1v1h-1zM357.6 523.0h1v1h-1zM362.4 544.2h1v1h-1zM386.4 543.9h1v1h-1zM345.8 542.4h1v1h-1zM344.8 533.1h1v1h-1zM367.4 538.3h1v1h-1zM342.3 554.7h1v1h-1zM333.3 546.0h1v1h-1zM368.3 538.9h1v1h-1zM358.0 545.6h1v1h-1zM368.1 551.2h1v1h-1zM364.6 522.1h1v1h-1zM361.5 545.6h1v1h-1zM373.6 563.5h1v1h-1zM338.7 544.9h1v1h-1zM342.8 537.5h1v1h-1zM360.9 525.8h1v1h-1zM356.0 539.3h1v1h-1zM357.8 543.3h1v1h-1zM360.5 536.1h1v1h-1zM351.5 555.8h1v1h-1zM354.5 534.4h1v1h-1zM353.2 546.2h1v1h-1zM339.1 547.6h1v1h-1zM345.4 544.8h1v1h-1zM379.5 550.3h1v1h-1zM355.8 529.0h1v1h-1zM363.7 553.9h1v1h-1zM376.1 525.6h1v1h-1zM351.9 546.1h1v1h-1zM345.4 533.0h1v1h-1zM367.7 528.0h1v1h-1zM340.7 549.8h1v1h-1zM393.6 546.3h1v1h-1zM355.7 546.4h1v1h-1zM349.7 520.7h1v1h-1zM381.7 540.4h1v1h-1zM363.0 532.7h1v1h-1zM364.5 543.0h1v1h-1zM332.6 545.2h1v1h-1zM355.8 534.9h1v1h-1zM343.0 532.3h1v1h-1zM367.5 533.1h1v1h-1zM361.3 538.1h1v1h-1zM358.1 548.3h1v1h-1zM362.4 542.5h1v1h-1zM365.1 539.5h1v1h-1zM368.3 536.9h1v1h-1zM349.3 545.0h1v1h-1zM341.6 551.7h1v1h-1zM341.4 542.1h1v1h-1zM339.1 541.9h1v1h-1zM359.8 559.5h1v1h-1zM365.8 539.6h1v1h-1zM338.3 538.5h1v1h-1zM353.1 554.2h1v1h-1zM355.0 544.3h1v1h-1zM351.1 533.9h1v1h-1zM364.5 545.3h1v1h-1zM338.4 526.5h1v1h-1zM341.7 541.7h1v1h-1zM361.1 541.8h1v1h-1zM344.9 546.5h1v1h-1zM364.4 546.3h1v1h-1zM373.3 541.7h1v1h-1zM336.7 536.0h1v1h-1zM362.8 542.2h1v1h-1zM355.0 535.8h1v1h-1zM340.3 552.6h1v1h-1zM385.2 528.0h1v1h-1zM346.3 533.9h1v1h-1zM386.6 515.3h1v1h-1zM359.9 541.9h1v1h-1zM375.1 535.3h1v1h-1zM374.5 531.9h1v1h-1zM359.4 547.4h1v1h-1zM357.8 545.4h1v1h-1zM366.4 534.6h1v1h-1zM367.2 536.4h1v1h-1zM361.1 523.7h1v1h-1zM349.3 536.6h1v1h-1zM379.1 555.1h1v1h-1zM349.2 548.3h1v1h-1zM334.0 554.6h1v1h-1zM371.9 546.2h1v1h-1zM375.1 527.9h1v1h-1zM365.2 536.1h1v1h-1zM381.4 525.1h1v1h-1zM351.6 543.3h1v1h-1zM344.6 554.3h1v1h-1zM364.0 534.6h1v1h-1zM351.9 535.7h1v1h-1zM364.4 533.0h1v1h-1zM358.8 535.9h1v1h-1zM352.8 542.8h1v1h-1zM332.7 552.9h1v1h-1zM377.6 541.5h1v1h-1zM357.2 552.3h1v1h-1zM387.9 526.2h1v1h-1zM355.9 544.8h1v1h-1zM379.1 523.3h1v1h-1zM341.5 557.7h1v1h-1zM368.5 513.5h1v1h-1zM353.8 558.4h1v1h-1zM362.0 541.1h1v1h-1zM363.2 530.3h1v1h-1zM346.6 530.4h1v1h-1zM349.6 537.1h1v1h-1zM348.9 532.6h1v1h-1zM365.2 517.8h1v1h-1zM344.7 540.9h1v1h-1zM376.4 537.3h1v1h-1zM344.8 539.4h1v1h-1zM379.3 528.1h1v1h-1zM370.4 534.7h1v1h-1zM348.4 548.4h1v1h-1zM349.2 536.7h1v1h-1zM362.0 552.3h1v1h-1zM342.9 549.2h1v1h-1zM357.7 529.3h1v1h-1zM363.0 545.8h1v1h-1zM343.7 555.4h1v1h-1zM351.9 541.0h1v1h-1zM352.7 553.0h1v1h-1zM373.9 535.4h1v1h-1zM370.0 544.1h1v1h-1zM379.0 534.8h1v1h-1zM343.8 540.2h1v1h-1zM369.2 560.3h1v1h-1zM367.3 549.0h1v1h-1zM346.1 552.5h1v1h-1zM379.7 526.7h1v1h-1zM364.7 540.1h1v1h-1zM336.5 542.6h1v1h-1zM354.4 539.9h1v1h-1zM357.4 551.3h1v1h-1zM359.0 545.0h1v1h-1zM371.3 537.5h1v1h-1zM374.5 524.1h1v1h-1zM350.7 531.9h1v1h-1zM384.2 533.5h1v1h-1zM357.7 541.5h1v1h-1zM364.5 550.8h1v1h-1zM342.2 544.7h1v1h-1zM355.4 540.4h1v1h-1zM362.3 543.2h1v1h-1zM354.6 541.9h1v1h-1zM365.1 536.2h1v1h-1zM354.8 540.5h1v1h-1zM331.6 548.4h1v1h-1zM379.6 529.7h1v1h-1zM347.0 554.6h1v1h-1zM332.9 552.6h1v1h-1zM359.1 536.2h1v1h-1zM349.4 540.8h1v1h-1zM376.2 528.4h1v1h-1zM342.7 527.5h1v1h-1z" fill="#333"/>
<path d="M369.7 540.1h1v1h-1zM353.9 542.1h1v1h-1zM342.9 541.7h1v1h-1zM371.7 512.7h1v1h-1zM373.0 535.1h1v1h-1zM335.4 554.9h1v1h-1zM359.2 522.3h1v1h-1zM352.7 534.0h1v1h-1zM369.4 535.4h1v1h-1zM356.9 521.0h1v1h-1zM382.3 533.3h1v1h-1zM337.7 551.8h1v1h-1zM360.7 532.9h1v1h-1zM354.4 538.0h1v1h-1zM351.4 545.0h1v1h-1zM353.7 537.0h1v1h-1zM370.8 521.0h1v1h-1zM336.0 536.1h1v1h-1zM378.2 527.9h1v1h-1zM363.2 536.5h1v1h-1zM358.4 542.0h1v1h-1zM351.6 542.7h1v1h-1zM343.5 534.3h1v1h-1zM343.6 542.4h1v1h-1zM366.0 537.4h1v1h-1zM357.1 539.4h1v1h-1zM359.2 526.5h1v1h-1zM359.2 539.6h1v1h-1zM346.3 546.0h1v1h-1zM359.7 532.7h1v1h-1zM337.0 536.5h1v1h-1zM362.8 536.6h1v1h-1zM344.6 541.7h1v1h-1zM359.7 541.2h1v1h-1zM345.7 533.7h1v1h-1zM352.3 549.5h1v1h-1zM344.3 525.0h1v1h-1zM384.9 524.0h1v1h-1zM360.6 532.6h1v1h-1zM343.7 548.0h1v1h-1zM339.6 547.6h1v1h-1zM361.1 541.2h1v1h-1zM336.0 557.0h1v1h-1zM343.5 556.8h1v1h-1zM364.4 532.7h1v1h-1zM375.5 538.2h1v1h-1zM339.3 539.4h1v1h-1zM356.6 520.7h1v1h-1zM362.8 559.3h1v1h-1zM355.2 556.9h1v1h-1zM340.3 543.9h1v1h-1zM349.9 528.4h1v1h-1zM363.0 554.3h1v1h-1zM356.2 549.9h1v1h-1zM350.3 549.0h1v1h-1zM370.6 537.2h1v1h-1zM363.8 544.8h1v1h-1zM387.2 518.7h1v1h-1zM374.1 545.8h1v1h-1zM367.6 540.2h1v1h-1zM368.6 536.4h1v1h-1zM345.0 547.2h1v1h-1zM364.5 520.5h1v1h-1zM354.6 527.5h1v1h-1zM347.8 551.8h1v1h-1zM375.0 526.1h1v1h-1zM351.4 543.4h1v1h-1zM370.1 550.2h1v1h-1zM384.1 530.6h1v1h-1zM353.9 542.7h1v1h-1zM359.2 527.8h1v1h-1zM376.1 539.4h1v1h-1zM355.8 542.2h1v1h-1zM375.6 540.5h1v1h-1zM337.1 553.6h1v1h-1zM368.8 527.9h1v1h-1zM345.3 548.1h1v1h-1zM357.7 555.6h1v1h-1zM376.3 524.5h1v1h-1zM358.8 538.1h1v1h-1zM340.9 543.5h1v1h-1zM341.9 553.4h1v1h-1zM337.8 547.0h1v1h-1zM334.3 541.8h1v1h-1zM383.1 535.4h1v1h-1zM363.9 540.6h1v1h-1zM348.4 534.0h1v1h-1zM351.3 549.0h1v1h-1zM363.9 536.5h1v1h-1zM369.1 545.7h1v1h-1zM385.2 512.4h1v1h-1zM350.3 524.2h1v1h-1zM355.1 541.0h1v1h-1zM331.5 556.8h1v1h-1zM348.1 543.2h1v1h-1zM349.6 538.0h1v1h-1zM356.5 555.7h1v1h-1zM350.1 538.6h1v1h-1zM363.1 536.1h1v1h-1zM358.7 538.2h1v1h-1zM367.7 543.3h1v1h-1zM388.5 526.7h1v1h-1zM367.8 551.9h1v1h-1zM360.9 559.7h1v1h-1zM355.0 538.5h1v1h-1zM346.4 549.3h1v1h-1zM376.9 524.9h1v1h-1zM357.7 541.3h1v1h-1zM368.4 549.3h1v1h-1zM352.5 538.7h1v1h-1zM347.2 550.4h1v1h-1zM368.6 538.0h1v1h-1zM365.6 541.2h1v1h-1zM378.5 526.4h1v1h-1zM361.7 521.2h1v1h-1zM354.2 542.0h1v1h-1zM345.9 549.8h1v1h-1zM369.0 541.0h1v1h-1zM347.9 545.8h1v1h-1zM354.1 533.2h1v1h-1zM343.1 536.5h1v1h-1zM357.8 552.5h1v1h-1zM339.2 529.9h1v1h-1zM374.2 526.0h1v1h-1zM372.0 535.8h1v1h-1zM367.8 529.2h1v1h-1zM344.8 527.8h1v1h-1zM365.4 546.3h1v1h-1zM365.0 549.9h1v1h-1zM351.9 541.9h1v1h-1zM363.9 546.3h1v1h-1zM382.4 542.1h1v1h-1zM356.2 545.6h1v1h-1zM369.8 542.5h1v1h-1zM382.0 540.6h1v1h-1zM370.3 526.2h1v1h-1zM362.2 534.1h1v1h-1zM363.5 547.6h1v1h-1zM358.6 542.6h1v1h-1zM333.2 538.1h1v1h-1zM376.1 549.6h1v1h-1zM343.4 530.1h1v1h-1zM375.1 540.7h1v1h-1zM342.3 539.2h1v1h-1zM360.4 534.4h1v1h-1zM358.2 549.4h1v1h-1zM337.4 550.2h1v1h-1zM366.9 550.5h1v1h-1zM362.3 545.3h1v1h-1zM372.3 533.1h1v1h-1zM339.3 544.0h1v1h-1zM351.0 531.2h1v1h-1zM349.1 546.5h1v1h-1zM375.7 546.5h1v1h-1zM338.6 543.1h1v1h-1zM364.3 534.4h1v1h-1zM351.0 531.3h1v1h-1zM354.5 545.6h1v1h-1zM358.8 527.8h1v1h-1zM341.1 542.3h1v1h-1zM359.1 531.4h1v1h-1zM357.4 533.2h1v1h-1zM371.1 553.7h1v1h-1zM333.9 550.7h1v1h-1zM339.6 529.3h1v1h-1zM366.1 528.4h1v1h-1zM373.2 551.4h1v1h-1zM353.7 544.4h1v1h-1zM370.1 532.6h1v1h-1zM363.1 529.8h1v1h-1zM341.8 557.1h1v1h-1zM370.4 544.2h1v1h-1zM374.9 540.1h1v1h-1zM363.7 543.3h1v1h-1zM362.6 532.7h1v1h-1zM356.4 530.7h1v1h-1zM351.0 545.4h1v1h-1zM358.5 541.5h1v1h-1zM345.4 533.5h1v1h-1zM342.2 539.8h1v1h-1zM362.6 538.6h1v1h-1zM342.2 546.7h1v1h-1zM357.2 521.2h1v1h-1zM355.6 552.2h1v1h-1zM375.2 540.7h1v1h-1zM388.6 540.5h1v1h-1zM348.1 554.8h1v1h-1zM376.4 536.0h1v1h-1zM380.8 537.4h1v1h-1zM359.2 536.3h1v1h-1zM370.4 518.9h1v1h-1zM371.5 545.7h1v1h-1zM335.9 544.9h1v1h-1zM359.0 544.2h1v1h-1zM358.7 539.3h1v1h-1zM353.3 532.4h1v1h-1zM352.2 548.9h1v1h-1zM368.2 546.9h1v1h-1zM358.3 561.2h1v1h-1zM333.0 560.4h1v1h-1z" fill="#555"/>
<path d="M332.4 537.6h1v1h-1zM356.1 527.8h1v1h-1zM371.9 549.1h1v1h-1zM337.7 529.9h1v1h-1zM351.9 553.7h1v1h-1zM367.8 510.8h1v1h-1zM354.6 509.7h1v1h-1zM374.0 530.8h1v1h-1zM388.2 529.3h1v1h-1zM349.7 530.3h1v1h-1zM347.9 523.7h1v1h-1zM330.4 539.8h1v1h-1zM352.1 517.7h1v1h-1zM345.1 540.7h1v1h-1zM373.7 529.2h1v1h-1zM398.5 537.1h1v1h-1zM378.9 525.5h1v1h-1zM361.8 524.7h1v1h-1zM349.4 529.9h1v1h-1zM387.5 521.8h1v1h-1zM382.8 543.1h1v1h-1zM385.5 538.8h1v1h-1zM390.4 527.5h1v1h-1zM367.4 545.9h1v1h-1zM375.7 532.8h1v1h-1zM394.2 523.6h1v1h-1zM374.9 524.4h1v1h-1zM348.2 535.7h1v1h-1zM361.3 527.8h1v1h-1zM384.7 547.4h1v1h-1zM374.5 520.0h1v1h-1zM349.3 548.4h1v1h-1zM344.6 531.6h1v1h-1zM371.3 523.4h1v1h-1zM383.7 538.1h1v1h-1zM355.9 533.6h1v1h-1zM358.3 541.8h1v1h-1zM386.2 539.7h1v1h-1zM375.9 530.0h1v1h-1zM383.4 518.6h1v1h-1zM356.4 515.5h1v1h-1zM363.9 523.0h1v1h-1zM367.0 523.3h1v1h-1zM392.7 513.7h1v1h-1zM334.8 548.6h1v1h-1zM362.5 522.5h1v1h-1zM367.0 537.6h1v1h-1zM385.2 529.5h1v1h-1zM382.3 541.4h1v1h-1zM353.2 538.4h1v1h-1zM377.8 531.0h1v1h-1zM369.7 539.2h1v1h-1zM397.2 524.0h1v1h-1zM376.5 506.1h1v1h-1zM331.6 549.8h1v1h-1zM369.7 547.2h1v1h-1zM394.4 529.9h1v1h-1zM358.6 530.0h1v1h-1zM337.6 523.1h1v1h-1zM362.5 535.0h1v1h-1zM384.3 541.9h1v1h-1zM371.9 522.2h1v1h-1zM352.4 536.9h1v1h-1zM395.0 527.0h1v1h-1zM346.5 546.2h1v1h-1zM376.6 521.8h1v1h-1zM363.8 537.5h1v1h-1zM366.3 527.7h1v1h-1zM384.9 519.5h1v1h-1zM393.5 512.9h1v1h-1zM388.8 549.6h1v1h-1zM404.4 525.8h1v1h-1zM391.7 537.0h1v1h-1zM399.9 529.5h1v1h-1zM401.0 539.0h1v1h-1zM399.6 535.4h1v1h-1zM400.3 548.0h1v1h-1zM405.2 534.2h1v1h-1zM424.5 532.9h1v1h-1zM407.8 516.7h1v1h-1zM398.6 530.5h1v1h-1zM412.8 530.4h1v1h-1zM388.0 536.0h1v1h-1zM413.2 528.5h1v1h-1zM408.1 536.3h1v1h-1zM388.6 542.5h1v1h-1zM415.7 544.4h1v1h-1zM415.5 542.1h1v1h-1zM412.5 528.4h1v1h-1zM408.2 509.9h1v1h-1zM399.5 540.9h1v1h-1zM409.5 531.2h1v1h-1zM393.3 536.4h1v1h-1zM388.7 547.3h1v1h-1zM393.4 530.2h1v1h-1zM406.2 525.8h1v1h-1zM390.3 505.1h1v1h-1zM393.1 521.6h1v1h-1zM390.7 533.8h1v1h-1zM456.8 441.9h1v1h-1zM458.7 432.0h1v1h-1zM467.5 436.5h1v1h-1zM456.9 436.4h1v1h-1zM434.2 448.7h1v1h-1zM461.8 441.6h1v1h-1zM455.8 442.7h1v1h-1zM470.8 430.5h1v1h-1zM447.7 449.2h1v1h-1zM438.5 443.4h1v1h-1zM426.0 435.3h1v1h-1zM393.5 465.4h1v1h-1zM434.9 479.8h1v1h-1z" fill="#ccc"/>
<path d="M391.8 532.3h1v1h-1zM392.1 509.3h1v1h-1zM389.1 529.6h1v1h-1zM376.4 523.1h1v1h-1zM389.4 537.1h1v1h-1zM385.7 537.4h1v1h-1zM357.2 508.1h1v1h-1zM387.6 512.5h1v1h-1zM365.1 541.9h1v1h-1zM373.5 531.8h1v1h-1zM376.8 529.6h1v1h-1zM396.7 512.3h1v1h-1zM375.5 527.2h1v1h-1zM371.9 524.1h1v1h-1zM384.5 515.4h1v1h-1zM383.2 507.9h1v1h-1zM374.8 521.5h1v1h-1zM355.1 514.6h1v1h-1zM383.5 536.7h1v1h-1zM363.9 545.0h1v1h-1zM331.1 560.0h1v1h-1zM372.4 553.8h1v1h-1zM377.9 533.0h1v1h-1zM369.8 529.9h1v1h-1zM390.5 513.9h1v1h-1zM370.7 516.5h1v1h-1zM386.5 525.7h1v1h-1zM359.3 531.0h1v1h-1zM359.4 510.9h1v1h-1zM349.0 535.7h1v1h-1zM350.6 523.1h1v1h-1zM379.4 530.0h1v1h-1zM391.8 525.0h1v1h-1zM397.2 545.5h1v1h-1zM380.7 539.4h1v1h-1zM347.9 534.7h1v1h-1zM371.8 510.2h1v1h-1zM360.3 527.8h1v1h-1zM387.0 504.9h1v1h-1zM381.2 563.0h1v1h-1zM364.6 534.2h1v1h-1zM366.7 527.2h1v1h-1zM362.8 533.4h1v1h-1zM381.1 545.9h1v1h-1zM395.9 527.5h1v1h-1zM370.5 542.8h1v1h-1zM360.6 532.1h1v1h-1zM382.5 539.7h1v1h-1zM396.1 551.6h1v1h-1zM390.2 514.0h1v1h-1zM372.9 512.3h1v1h-1zM394.9 505.8h1v1h-1zM367.8 523.6h1v1h-1zM391.2 535.0h1v1h-1zM388.6 517.7h1v1h-1zM354.7 527.1h1v1h-1zM327.4 535.9h1v1h-1zM399.8 534.3h1v1h-1zM376.2 510.3h1v1h-1zM375.2 543.8h1v1h-1zM378.7 541.7h1v1h-1zM400.1 530.8h1v1h-1zM392.7 534.5h1v1h-1zM396.9 537.8h1v1h-1zM399.4 508.3h1v1h-1zM399.8 528.0h1v1h-1zM393.8 535.4h1v1h-1zM388.7 514.6h1v1h-1zM390.6 546.2h1v1h-1zM422.3 541.4h1v1h-1zM397.0 518.0h1v1h-1zM391.0 550.8h1v1h-1zM416.7 530.1h1v1h-1zM397.2 537.2h1v1h-1zM417.0 506.0h1v1h-1zM398.3 512.4h1v1h-1zM412.4 534.7h1v1h-1zM409.2 523.5h1v1h-1zM401.6 527.3h1v1h-1zM411.3 520.9h1v1h-1zM402.9 539.5h1v1h-1zM400.4 524.8h1v1h-1zM421.1 530.0h1v1h-1zM400.9 547.9h1v1h-1zM397.1 530.5h1v1h-1zM420.3 529.1h1v1h-1zM394.7 533.1h1v1h-1zM405.6 542.8h1v1h-1zM398.6 558.9h1v1h-1zM406.1 520.3h1v1h-1zM404.7 545.7h1v1h-1zM392.2 532.8h1v1h-1zM401.6 529.9h1v1h-1zM388.8 535.5h1v1h-1zM388.1 532.5h1v1h-1zM411.6 536.5h1v1h-1zM396.6 523.6h1v1h-1zM400.0 549.6h1v1h-1zM401.0 513.0h1v1h-1zM413.9 530.8h1v1h-1zM392.8 533.2h1v1h-1zM450.7 444.6h1v1h-1zM447.2 456.3h1v1h-1zM437.3 436.0h1v1h-1zM468.5 454.9h1v1h-1zM454.1 437.3h1v1h-1zM456.1 445.0h1v1h-1zM453.3 433.1h1v1h-1zM432.2 442.4h1v1h-1zM453.7 440.3h1v1h-1zM458.4 441.1h1v1h-1zM461.1 436.7h1v1h-1zM449.4 444.2h1v1h-1zM468.5 436.7h1v1h-1zM445.2 448.6h1v1h-1zM456.7 436.3h1v1h-1zM450.9 449.1h1v1h-1zM444.4 450.2h1v1h-1zM454.2 436.8h1v1h-1zM457.4 440.9h1v1h-1zM438.8 448.4h1v1h-1zM452.0 442.8h1v1h-1zM453.7 454.9h1v1h-1zM451.2 438.4h1v1h-1zM455.3 440.3h1v1h-1zM455.9 443.4h1v1h-1zM450.7 442.2h1v1h-1zM392.4 455.6h1v1h-1z" fill="#999"/>
<path d="M396.7 500.3h1v1h-1zM377.9 519.2h1v1h-1zM376.9 542.8h1v1h-1zM371.3 525.9h1v1h-1zM379.2 522.2h1v1h-1zM395.9 509.2h1v1h-1zM380.1 521.8h1v1h-1zM399.3 539.2h1v1h-1zM371.5 512.7h1v1h-1zM379.1 520.4h1v1h-1zM388.5 539.2h1v1h-1zM369.9 537.9h1v1h-1zM364.4 517.9h1v1h-1zM366.7 536.8h1v1h-1zM362.6 507.9h1v1h-1zM375.7 542.1h1v1h-1zM369.4 508.2h1v1h-1zM377.5 534.5h1v1h-1zM382.4 534.1h1v1h-1zM342.1 541.3h1v1h-1zM336.9 522.4h1v1h-1zM383.1 522.7h1v1h-1zM395.5 531.7h1v1h-1zM364.3 539.0h1v1h-1zM386.8 538.9h1v1h-1zM381.7 504.9h1v1h-1zM331.1 541.3h1v1h-1zM355.9 527.3h1v1h-1zM356.9 545.2h1v1h-1zM356.2 551.7h1v1h-1zM340.6 518.1h1v1h-1zM369.6 520.9h1v1h-1zM358.2 534.4h1v1h-1zM379.9 505.0h1v1h-1zM369.9 529.2h1v1h-1zM374.0 530.8h1v1h-1zM347.8 524.6h1v1h-1zM387.6 521.3h1v1h-1zM390.4 538.3h1v1h-1zM362.3 534.2h1v1h-1zM348.2 519.7h1v1h-1zM378.2 513.6h1v1h-1zM376.2 522.9h1v1h-1zM387.6 536.4h1v1h-1zM363.9 510.9h1v1h-1zM378.9 537.8h1v1h-1zM382.8 521.9h1v1h-1zM395.4 533.2h1v1h-1zM356.9 519.9h1v1h-1zM382.8 523.1h1v1h-1zM371.1 513.6h1v1h-1zM374.3 523.1h1v1h-1zM329.3 548.9h1v1h-1zM389.9 512.3h1v1h-1zM364.7 533.5h1v1h-1zM367.8 519.4h1v1h-1zM368.7 522.0h1v1h-1zM405.5 532.5h1v1h-1zM394.5 518.6h1v1h-1zM400.3 556.6h1v1h-1zM405.5 526.1h1v1h-1zM391.5 537.0h1v1h-1zM418.5 538.8h1v1h-1zM407.1 511.0h1v1h-1zM390.1 541.0h1v1h-1zM412.0 547.6h1v1h-1zM400.6 519.9h1v1h-1zM388.3 533.5h1v1h-1zM388.7 531.7h1v1h-1zM415.2 506.5h1v1h-1zM400.6 527.7h1v1h-1zM395.0 516.7h1v1h-1zM395.3 526.6h1v1h-1zM401.9 542.2h1v1h-1zM402.7 517.6h1v1h-1zM396.1 532.8h1v1h-1zM400.2 518.8h1v1h-1zM413.9 542.9h1v1h-1zM388.2 522.2h1v1h-1zM417.4 510.6h1v1h-1zM395.6 542.5h1v1h-1zM396.2 528.7h1v1h-1zM397.6 527.7h1v1h-1zM401.2 521.7h1v1h-1zM416.6 532.8h1v1h-1zM397.5 535.7h1v1h-1zM390.8 544.0h1v1h-1zM409.9 540.1h1v1h-1zM418.0 521.0h1v1h-1zM392.9 523.8h1v1h-1zM397.6 535.9h1v1h-1zM390.8 521.7h1v1h-1zM406.5 534.1h1v1h-1zM411.7 522.3h1v1h-1zM403.5 524.6h1v1h-1zM419.4 528.0h1v1h-1zM396.2 515.6h1v1h-1zM403.7 531.3h1v1h-1zM388.1 531.6h1v1h-1zM418.2 523.5h1v1h-1zM459.1 438.4h1v1h-1zM451.0 442.8h1v1h-1zM448.1 451.2h1v1h-1zM455.1 438.8h1v1h-1zM450.8 444.1h1v1h-1zM454.1 437.9h1v1h-1zM452.5 443.1h1v1h-1zM447.2 445.8h1v1h-1zM449.0 438.6h1v1h-1zM462.7 443.7h1v1h-1zM460.5 440.7h1v1h-1zM450.0 447.7h1v1h-1zM456.3 439.5h1v1h-1zM451.6 446.6h1v1h-1zM445.7 450.6h1v1h-1zM379.8 475.2h1v1h-1zM415.2 468.4h1v1h-1zM411.7 427.2h1v1h-1zM416.4 445.7h1v1h-1z" fill="#aaa"/>
<path d="M392.9 543.7h1v1h-1zM366.0 526.6h1v1h-1zM352.0 539.0h1v1h-1zM388.1 525.1h1v1h-1zM348.2 524.3h1v1h-1zM363.9 523.9h1v1h-1zM354.5 527.6h1v1h-1zM376.2 509.1h1v1h-1zM388.1 536.2h1v1h-1zM372.7 528.1h1v1h-1zM353.9 560.5h1v1h-1zM360.9 522.7h1v1h-1zM350.0 514.8h1v1h-1zM346.3 532.3h1v1h-1zM348.5 527.5h1v1h-1zM376.2 526.3h1v1h-1zM386.6 535.0h1v1h-1zM382.2 521.0h1v1h-1zM367.0 524.5h1v1h-1zM361.7 523.8h1v1h-1zM361.3 523.7h1v1h-1zM371.3 539.3h1v1h-1zM361.2 544.0h1v1h-1zM364.8 526.7h1v1h-1zM355.0 553.3h1v1h-1zM359.9 545.0h1v1h-1zM361.5 532.6h1v1h-1zM365.4 523.6h1v1h-1zM358.4 527.3h1v1h-1zM382.7 537.3h1v1h-1zM352.7 522.6h1v1h-1zM362.4 521.5h1v1h-1zM363.4 528.7h1v1h-1zM348.2 540.0h1v1h-1zM378.9 505.7h1v1h-1zM386.1 524.8h1v1h-1zM357.1 534.9h1v1h-1zM358.0 560.8h1v1h-1zM353.6 518.8h1v1h-1zM385.1 543.7h1v1h-1zM351.9 514.6h1v1h-1zM336.9 535.8h1v1h-1zM385.1 528.8h1v1h-1zM395.5 524.6h1v1h-1zM352.3 526.5h1v1h-1zM366.3 534.0h1v1h-1zM367.2 526.3h1v1h-1zM398.9 516.7h1v1h-1zM353.9 529.0h1v1h-1zM359.7 537.2h1v1h-1zM363.2 511.2h1v1h-1zM364.1 528.3h1v1h-1zM343.6 524.9h1v1h-1zM361.2 504.5h1v1h-1zM369.0 533.2h1v1h-1zM342.8 535.4h1v1h-1zM369.7 519.4h1v1h-1zM355.9 537.3h1v1h-1zM336.1 541.2h1v1h-1zM392.8 518.2h1v1h-1zM347.1 538.4h1v1h-1zM355.2 528.4h1v1h-1zM341.6 536.9h1v1h-1zM395.9 541.6h1v1h-1zM405.2 531.2h1v1h-1zM402.4 538.2h1v1h-1zM399.8 532.5h1v1h-1zM406.2 551.2h1v1h-1zM391.6 533.5h1v1h-1zM420.3 525.1h1v1h-1zM413.0 516.9h1v1h-1zM408.0 537.7h1v1h-1zM395.8 521.1h1v1h-1zM405.1 525.2h1v1h-1zM407.7 516.1h1v1h-1zM411.9 546.6h1v1h-1zM391.5 530.1h1v1h-1zM407.5 521.3h1v1h-1zM398.6 543.2h1v1h-1zM393.7 542.6h1v1h-1zM400.8 516.3h1v1h-1zM416.1 542.5h1v1h-1zM390.7 514.5h1v1h-1zM408.7 535.5h1v1h-1zM407.5 508.6h1v1h-1zM406.1 517.0h1v1h-1zM411.9 523.3h1v1h-1zM388.6 543.3h1v1h-1zM400.1 549.6h1v1h-1zM408.7 514.6h1v1h-1zM398.2 543.4h1v1h-1zM392.0 516.6h1v1h-1zM404.7 546.6h1v1h-1zM414.4 517.6h1v1h-1zM391.3 545.2h1v1h-1zM397.4 555.9h1v1h-1zM405.1 521.0h1v1h-1zM409.7 546.9h1v1h-1zM411.3 520.0h1v1h-1zM397.0 530.1h1v1h-1zM420.8 546.2h1v1h-1zM400.8 539.9h1v1h-1zM392.6 527.2h1v1h-1zM395.1 532.1h1v1h-1zM400.0 530.4h1v1h-1zM405.9 519.8h1v1h-1zM389.1 530.5h1v1h-1zM395.3 516.3h1v1h-1zM400.4 533.5h1v1h-1zM392.4 532.0h1v1h-1zM454.9 441.9h1v1h-1zM457.3 444.3h1v1h-1zM457.2 450.3h1v1h-1zM446.3 456.9h1v1h-1zM454.6 444.7h1v1h-1zM443.2 444.8h1v1h-1zM456.7 436.1h1v1h-1zM452.9 439.3h1v1h-1zM454.2 438.1h1v1h-1zM455.2 440.6h1v1h-1zM463.8 441.3h1v1h-1zM446.7 453.4h1v1h-1zM462.6 436.3h1v1h-1zM465.4 436.5h1v1h-1zM442.6 451.6h1v1h-1zM451.5 444.5h1v1h-1zM438.8 450.8h1v1h-1zM457.1 438.7h1v1h-1zM455.2 443.5h1v1h-1zM389.8 471.8h1v1h-1zM429.8 458.7h1v1h-1zM434.0 482.1h1v1h-1zM381.6 474.7h1v1h-1z" fill="#bbb"/>
<rect x="316.8" y="398.6" width="181.0" height="176.19999999999993" fill="none" stroke="#555" stroke-width="1.15"/>
<line x1="391.2" y1="398.6" x2="391.2" y2="574.8" stroke="#6a6a6a" stroke-width="1.2"/>
<line x1="316.8" y1="496.3" x2="497.8" y2="496.3" stroke="#6a6a6a" stroke-width="1.2"/>
<line x1="312.8" y1="414.5" x2="316.8" y2="414.5" stroke="#555" stroke-width="1"/>
<text x="308.90000000000003" y="417.7" font-size="8.4" text-anchor="end" fill="#444">10<tspan font-size="5.8" dy="-4.2">5</tspan></text>
<line x1="312.8" y1="453.7" x2="316.8" y2="453.7" stroke="#555" stroke-width="1"/>
<text x="308.90000000000003" y="456.9" font-size="8.4" text-anchor="end" fill="#444">10<tspan font-size="5.8" dy="-4.2">4</tspan></text>
<line x1="312.8" y1="494.6" x2="316.8" y2="494.6" stroke="#555" stroke-width="1"/>
<text x="308.90000000000003" y="497.8" font-size="8.4" text-anchor="end" fill="#444">10<tspan font-size="5.8" dy="-4.2">3</tspan></text>
<line x1="312.8" y1="536.8" x2="316.8" y2="536.8" stroke="#555" stroke-width="1"/>
<text x="308.90000000000003" y="540.0" font-size="8.4" text-anchor="end" fill="#444">10<tspan font-size="5.8" dy="-4.2">2</tspan></text>
<line x1="312.8" y1="555.5" x2="316.8" y2="555.5" stroke="#222" stroke-width="1.8"/>
<text x="308.90000000000003" y="558.6" font-size="8.4" text-anchor="end" fill="#444">0</text>
<line x1="314.3" y1="441.9" x2="316.8" y2="441.9" stroke="#555" stroke-width="0.9"/>
<line x1="314.3" y1="435.0" x2="316.8" y2="435.0" stroke="#555" stroke-width="0.9"/>
<line x1="314.3" y1="430.1" x2="316.8" y2="430.1" stroke="#555" stroke-width="0.9"/>
<line x1="314.3" y1="426.3" x2="316.8" y2="426.3" stroke="#555" stroke-width="0.9"/>
<line x1="314.3" y1="423.2" x2="316.8" y2="423.2" stroke="#555" stroke-width="0.9"/>
<line x1="314.3" y1="420.6" x2="316.8" y2="420.6" stroke="#555" stroke-width="0.9"/>
<line x1="314.3" y1="418.3" x2="316.8" y2="418.3" stroke="#555" stroke-width="0.9"/>
<line x1="314.3" y1="416.3" x2="316.8" y2="416.3" stroke="#555" stroke-width="0.9"/>
<line x1="314.3" y1="482.3" x2="316.8" y2="482.3" stroke="#555" stroke-width="0.9"/>
<line x1="314.3" y1="475.1" x2="316.8" y2="475.1" stroke="#555" stroke-width="0.9"/>
<line x1="314.3" y1="470.0" x2="316.8" y2="470.0" stroke="#555" stroke-width="0.9"/>
<line x1="314.3" y1="466.0" x2="316.8" y2="466.0" stroke="#555" stroke-width="0.9"/>
<line x1="314.3" y1="462.8" x2="316.8" y2="462.8" stroke="#555" stroke-width="0.9"/>
<line x1="314.3" y1="460.0" x2="316.8" y2="460.0" stroke="#555" stroke-width="0.9"/>
<line x1="314.3" y1="457.7" x2="316.8" y2="457.7" stroke="#555" stroke-width="0.9"/>
<line x1="314.3" y1="455.6" x2="316.8" y2="455.6" stroke="#555" stroke-width="0.9"/>
<line x1="314.3" y1="524.1" x2="316.8" y2="524.1" stroke="#555" stroke-width="0.9"/>
<line x1="314.3" y1="516.7" x2="316.8" y2="516.7" stroke="#555" stroke-width="0.9"/>
<line x1="314.3" y1="511.4" x2="316.8" y2="511.4" stroke="#555" stroke-width="0.9"/>
<line x1="314.3" y1="507.3" x2="316.8" y2="507.3" stroke="#555" stroke-width="0.9"/>
<line x1="314.3" y1="504.0" x2="316.8" y2="504.0" stroke="#555" stroke-width="0.9"/>
<line x1="314.3" y1="501.1" x2="316.8" y2="501.1" stroke="#555" stroke-width="0.9"/>
<line x1="314.3" y1="498.7" x2="316.8" y2="498.7" stroke="#555" stroke-width="0.9"/>
<line x1="314.3" y1="496.5" x2="316.8" y2="496.5" stroke="#555" stroke-width="0.9"/>
<line x1="314.3" y1="402.7" x2="316.8" y2="402.7" stroke="#555" stroke-width="0.9"/>
<line x1="314.3" y1="561.0" x2="316.8" y2="561.0" stroke="#555" stroke-width="0.9"/>
<line x1="314.3" y1="566.5" x2="316.8" y2="566.5" stroke="#555" stroke-width="0.9"/>
<line x1="314.3" y1="572.0" x2="316.8" y2="572.0" stroke="#555" stroke-width="0.9"/>
<line x1="314.3" y1="549.5" x2="316.8" y2="549.5" stroke="#555" stroke-width="0.9"/>
<line x1="314.3" y1="543.5" x2="316.8" y2="543.5" stroke="#555" stroke-width="0.9"/>
<line x1="335.6" y1="574.8" x2="335.6" y2="579.3" stroke="#222" stroke-width="1.8"/>
<text x="335.6" y="591.3" font-size="8.4" text-anchor="middle" fill="#444">0</text>
<line x1="354.8" y1="574.8" x2="354.8" y2="579.3" stroke="#555" stroke-width="1"/>
<text x="350.0" y="591.3" font-size="8.4" fill="#444">10<tspan font-size="5.8" dy="-4.2">2</tspan></text>
<line x1="396.2" y1="574.8" x2="396.2" y2="579.3" stroke="#555" stroke-width="1"/>
<text x="391.4" y="591.3" font-size="8.4" fill="#444">10<tspan font-size="5.8" dy="-4.2">3</tspan></text>
<line x1="437.6" y1="574.8" x2="437.6" y2="579.3" stroke="#555" stroke-width="1"/>
<text x="432.8" y="591.3" font-size="8.4" fill="#444">10<tspan font-size="5.8" dy="-4.2">4</tspan></text>
<line x1="479" y1="574.8" x2="479" y2="579.3" stroke="#555" stroke-width="1"/>
<text x="474.2" y="591.3" font-size="8.4" fill="#444">10<tspan font-size="5.8" dy="-4.2">5</tspan></text>
<line x1="367.3" y1="574.8" x2="367.3" y2="577.5999999999999" stroke="#555" stroke-width="0.9"/>
<line x1="374.6" y1="574.8" x2="374.6" y2="577.5999999999999" stroke="#555" stroke-width="0.9"/>
<line x1="379.7" y1="574.8" x2="379.7" y2="577.5999999999999" stroke="#555" stroke-width="0.9"/>
<line x1="383.7" y1="574.8" x2="383.7" y2="577.5999999999999" stroke="#555" stroke-width="0.9"/>
<line x1="387.0" y1="574.8" x2="387.0" y2="577.5999999999999" stroke="#555" stroke-width="0.9"/>
<line x1="389.8" y1="574.8" x2="389.8" y2="577.5999999999999" stroke="#555" stroke-width="0.9"/>
<line x1="392.2" y1="574.8" x2="392.2" y2="577.5999999999999" stroke="#555" stroke-width="0.9"/>
<line x1="394.3" y1="574.8" x2="394.3" y2="577.5999999999999" stroke="#555" stroke-width="0.9"/>
<line x1="408.7" y1="574.8" x2="408.7" y2="577.5999999999999" stroke="#555" stroke-width="0.9"/>
<line x1="416.0" y1="574.8" x2="416.0" y2="577.5999999999999" stroke="#555" stroke-width="0.9"/>
<line x1="421.1" y1="574.8" x2="421.1" y2="577.5999999999999" stroke="#555" stroke-width="0.9"/>
<line x1="425.1" y1="574.8" x2="425.1" y2="577.5999999999999" stroke="#555" stroke-width="0.9"/>
<line x1="428.4" y1="574.8" x2="428.4" y2="577.5999999999999" stroke="#555" stroke-width="0.9"/>
<line x1="431.2" y1="574.8" x2="431.2" y2="577.5999999999999" stroke="#555" stroke-width="0.9"/>
<line x1="433.6" y1="574.8" x2="433.6" y2="577.5999999999999" stroke="#555" stroke-width="0.9"/>
<line x1="435.7" y1="574.8" x2="435.7" y2="577.5999999999999" stroke="#555" stroke-width="0.9"/>
<line x1="450.1" y1="574.8" x2="450.1" y2="577.5999999999999" stroke="#555" stroke-width="0.9"/>
<line x1="457.4" y1="574.8" x2="457.4" y2="577.5999999999999" stroke="#555" stroke-width="0.9"/>
<line x1="462.5" y1="574.8" x2="462.5" y2="577.5999999999999" stroke="#555" stroke-width="0.9"/>
<line x1="466.5" y1="574.8" x2="466.5" y2="577.5999999999999" stroke="#555" stroke-width="0.9"/>
<line x1="469.8" y1="574.8" x2="469.8" y2="577.5999999999999" stroke="#555" stroke-width="0.9"/>
<line x1="472.6" y1="574.8" x2="472.6" y2="577.5999999999999" stroke="#555" stroke-width="0.9"/>
<line x1="475.0" y1="574.8" x2="475.0" y2="577.5999999999999" stroke="#555" stroke-width="0.9"/>
<line x1="477.1" y1="574.8" x2="477.1" y2="577.5999999999999" stroke="#555" stroke-width="0.9"/>
<line x1="330.1" y1="574.8" x2="330.1" y2="577.5999999999999" stroke="#555" stroke-width="0.9"/>
<line x1="324.6" y1="574.8" x2="324.6" y2="577.5999999999999" stroke="#555" stroke-width="0.9"/>
<line x1="319.1" y1="574.8" x2="319.1" y2="577.5999999999999" stroke="#555" stroke-width="0.9"/>
<line x1="341.1" y1="574.8" x2="341.1" y2="577.5999999999999" stroke="#555" stroke-width="0.9"/>
<line x1="346.6" y1="574.8" x2="346.6" y2="577.5999999999999" stroke="#555" stroke-width="0.9"/>
<line x1="491.5" y1="574.8" x2="491.5" y2="577.5999999999999" stroke="#555" stroke-width="0.9"/>
<text transform="translate(178.94,419.80) scale(1.0634,1)" font-size="19.5" fill="#000">2.8±0.5%</text>
<text transform="translate(178.98,568.80) scale(1.0580,1)" font-size="19.5" fill="#000">4.4±0.2%</text>
<text transform="translate(418.06,419.90) scale(1.0527,1)" font-size="19.5" fill="#000">3±1.1%</text>
<text transform="translate(385.85,568.20) scale(1.0666,1)" font-size="19.5" fill="#000">8.97±2.6%</text>
<text x="487.90" y="564.60" font-size="21">*</text>
<path d="M94.60,824.80 C104.57,824.80 139.38,824.87 150.00,824.80 C160.62,824.73 152.38,825.01 153.60,824.40 C154.82,823.79 155.83,823.67 156.80,821.40 C157.77,819.13 158.30,817.40 159.00,811.80 C159.70,806.20 160.12,799.97 160.70,790.30 C161.28,780.63 161.73,769.69 162.20,758.10 C162.67,746.51 162.89,736.77 163.30,725.90 C163.71,715.03 164.23,705.13 164.50,697.70 C164.77,690.27 164.64,687.64 164.80,684.60 C164.96,681.56 165.15,681.21 165.40,680.80 C165.65,680.39 165.82,682.44 166.20,682.30 C166.58,682.16 167.09,680.90 167.50,680.00 C167.91,679.10 168.19,677.30 168.50,677.30 C168.81,677.30 168.97,680.77 169.20,680.00 C169.43,679.23 169.55,675.92 169.80,673.00 C170.05,670.08 170.26,666.41 170.60,663.80 C170.94,661.19 171.36,659.67 171.70,658.50 C172.04,657.33 172.18,657.17 172.50,657.30 C172.82,657.43 173.19,658.03 173.50,659.20 C173.81,660.37 173.93,661.71 174.20,663.80 C174.47,665.89 174.68,669.05 175.00,670.80 C175.32,672.55 175.73,672.53 176.00,673.50 C176.27,674.47 176.27,674.35 176.50,676.20 C176.73,678.05 176.98,681.05 177.30,683.80 C177.62,686.55 177.96,689.00 178.30,691.50 C178.64,694.00 178.62,690.77 179.20,697.70 C179.78,704.63 180.82,721.31 181.50,730.00 C182.18,738.69 182.41,740.42 183.00,746.00 C183.59,751.58 184.13,755.60 184.80,761.00 C185.47,766.40 186.03,771.50 186.70,776.00 C187.37,780.50 187.94,783.30 188.50,786.00 C189.06,788.70 189.26,789.52 189.80,791.00 C190.34,792.48 190.83,793.26 191.50,794.20 C192.17,795.14 192.80,795.23 193.50,796.20 C194.20,797.17 194.72,799.06 195.40,799.60 C196.08,800.14 196.62,798.91 197.30,799.20 C197.98,799.49 198.34,800.16 199.20,801.20 C200.06,802.24 201.24,804.42 202.10,805.00 C202.96,805.58 203.14,804.51 204.00,804.40 C204.86,804.29 206.04,805.19 206.90,804.40 C207.76,803.61 208.10,799.82 208.80,800.00 C209.50,800.18 209.92,803.74 210.80,805.40 C211.68,807.06 212.67,808.79 213.70,809.20 C214.73,809.61 215.47,808.38 216.50,807.70 C217.53,807.02 218.36,805.65 219.40,805.40 C220.44,805.15 221.08,805.78 222.30,806.30 C223.52,806.82 224.81,807.85 226.20,808.30 C227.59,808.75 228.69,809.50 230.00,808.80 C231.31,808.10 232.46,804.33 233.50,804.40 C234.54,804.47 235.04,807.92 235.80,809.20 C236.56,810.48 237.02,811.50 237.70,811.50 C238.38,811.50 238.84,809.96 239.60,809.20 C240.36,808.44 241.04,807.30 241.90,807.30 C242.76,807.30 243.43,808.16 244.40,809.20 C245.37,810.24 246.26,813.17 247.30,813.10 C248.34,813.03 249.23,809.14 250.20,808.80 C251.17,808.46 251.84,809.90 252.70,811.20 C253.56,812.50 254.06,814.11 255.00,816.00 C255.94,817.89 257.04,820.17 257.90,821.70 C258.76,823.23 259.06,823.94 259.80,824.50 C260.54,825.06 260.11,824.75 262.00,824.80 C263.89,824.85 268.81,824.80 270.30,824.80" fill="none" stroke="#111" stroke-width="1.25" stroke-linejoin="round"/>
<rect x="94.6" y="648.6" width="176.00000000000003" height="176.19999999999993" fill="none" stroke="#555" stroke-width="1.15"/>
<line x1="90.1" y1="682.1" x2="94.6" y2="682.1" stroke="#555" stroke-width="1.1"/>
<text x="87.6" y="685.0" font-size="8.2" text-anchor="end" fill="#444">80</text>
<line x1="90.1" y1="718.2" x2="94.6" y2="718.2" stroke="#555" stroke-width="1.1"/>
<text x="87.6" y="721.1" font-size="8.2" text-anchor="end" fill="#444">60</text>
<line x1="90.1" y1="753.9" x2="94.6" y2="753.9" stroke="#555" stroke-width="1.1"/>
<text x="87.6" y="756.8" font-size="8.2" text-anchor="end" fill="#444">40</text>
<line x1="90.1" y1="789.5" x2="94.6" y2="789.5" stroke="#555" stroke-width="1.1"/>
<text x="87.6" y="792.4" font-size="8.2" text-anchor="end" fill="#444">20</text>
<line x1="90.1" y1="824.8" x2="94.6" y2="824.8" stroke="#555" stroke-width="1.1"/>
<text x="87.6" y="827.7" font-size="8.2" text-anchor="end" fill="#444">0</text>
<line x1="91.89999999999999" y1="824.8" x2="94.6" y2="824.8" stroke="#555" stroke-width="0.9"/>
<line x1="91.89999999999999" y1="815.9" x2="94.6" y2="815.9" stroke="#555" stroke-width="0.9"/>
<line x1="91.89999999999999" y1="806.9" x2="94.6" y2="806.9" stroke="#555" stroke-width="0.9"/>
<line x1="91.89999999999999" y1="798.0" x2="94.6" y2="798.0" stroke="#555" stroke-width="0.9"/>
<line x1="91.89999999999999" y1="789.1" x2="94.6" y2="789.1" stroke="#555" stroke-width="0.9"/>
<line x1="91.89999999999999" y1="780.2" x2="94.6" y2="780.2" stroke="#555" stroke-width="0.9"/>
<line x1="91.89999999999999" y1="771.2" x2="94.6" y2="771.2" stroke="#555" stroke-width="0.9"/>
<line x1="91.89999999999999" y1="762.3" x2="94.6" y2="762.3" stroke="#555" stroke-width="0.9"/>
<line x1="91.89999999999999" y1="753.4" x2="94.6" y2="753.4" stroke="#555" stroke-width="0.9"/>
<line x1="91.89999999999999" y1="744.4" x2="94.6" y2="744.4" stroke="#555" stroke-width="0.9"/>
<line x1="91.89999999999999" y1="735.5" x2="94.6" y2="735.5" stroke="#555" stroke-width="0.9"/>
<line x1="91.89999999999999" y1="726.6" x2="94.6" y2="726.6" stroke="#555" stroke-width="0.9"/>
<line x1="91.89999999999999" y1="717.6" x2="94.6" y2="717.6" stroke="#555" stroke-width="0.9"/>
<line x1="91.89999999999999" y1="708.7" x2="94.6" y2="708.7" stroke="#555" stroke-width="0.9"/>
<line x1="91.89999999999999" y1="699.8" x2="94.6" y2="699.8" stroke="#555" stroke-width="0.9"/>
<line x1="91.89999999999999" y1="690.9" x2="94.6" y2="690.9" stroke="#555" stroke-width="0.9"/>
<line x1="91.89999999999999" y1="681.9" x2="94.6" y2="681.9" stroke="#555" stroke-width="0.9"/>
<line x1="91.89999999999999" y1="673.0" x2="94.6" y2="673.0" stroke="#555" stroke-width="0.9"/>
<line x1="91.89999999999999" y1="664.1" x2="94.6" y2="664.1" stroke="#555" stroke-width="0.9"/>
<line x1="91.89999999999999" y1="655.1" x2="94.6" y2="655.1" stroke="#555" stroke-width="0.9"/>
<line x1="94.6" y1="824.8" x2="94.6" y2="829.3" stroke="#555" stroke-width="1.1"/>
<text x="94.6" y="840.8" font-size="8.2" text-anchor="middle" fill="#444">0</text>
<line x1="127.9" y1="824.8" x2="127.9" y2="829.3" stroke="#555" stroke-width="1.1"/>
<text x="127.9" y="840.8" font-size="8.2" text-anchor="middle" fill="#444">50K</text>
<line x1="161.3" y1="824.8" x2="161.3" y2="829.3" stroke="#555" stroke-width="1.1"/>
<text x="161.3" y="840.8" font-size="8.2" text-anchor="middle" fill="#444">100K</text>
<line x1="194.7" y1="824.8" x2="194.7" y2="829.3" stroke="#555" stroke-width="1.1"/>
<text x="194.7" y="840.8" font-size="8.2" text-anchor="middle" fill="#444">150K</text>
<line x1="228.0" y1="824.8" x2="228.0" y2="829.3" stroke="#555" stroke-width="1.1"/>
<text x="228.0" y="840.8" font-size="8.2" text-anchor="middle" fill="#444">200K</text>
<line x1="261.4" y1="824.8" x2="261.4" y2="829.3" stroke="#555" stroke-width="1.1"/>
<text x="261.4" y="840.8" font-size="8.2" text-anchor="middle" fill="#444">250K</text>
<line x1="94.6" y1="824.8" x2="94.6" y2="827.5" stroke="#555" stroke-width="0.9"/>
<line x1="101.3" y1="824.8" x2="101.3" y2="827.5" stroke="#555" stroke-width="0.9"/>
<line x1="107.9" y1="824.8" x2="107.9" y2="827.5" stroke="#555" stroke-width="0.9"/>
<line x1="114.6" y1="824.8" x2="114.6" y2="827.5" stroke="#555" stroke-width="0.9"/>
<line x1="121.3" y1="824.8" x2="121.3" y2="827.5" stroke="#555" stroke-width="0.9"/>
<line x1="127.9" y1="824.8" x2="127.9" y2="827.5" stroke="#555" stroke-width="0.9"/>
<line x1="134.6" y1="824.8" x2="134.6" y2="827.5" stroke="#555" stroke-width="0.9"/>
<line x1="141.3" y1="824.8" x2="141.3" y2="827.5" stroke="#555" stroke-width="0.9"/>
<line x1="148.0" y1="824.8" x2="148.0" y2="827.5" stroke="#555" stroke-width="0.9"/>
<line x1="154.6" y1="824.8" x2="154.6" y2="827.5" stroke="#555" stroke-width="0.9"/>
<line x1="161.3" y1="824.8" x2="161.3" y2="827.5" stroke="#555" stroke-width="0.9"/>
<line x1="168.0" y1="824.8" x2="168.0" y2="827.5" stroke="#555" stroke-width="0.9"/>
<line x1="174.6" y1="824.8" x2="174.6" y2="827.5" stroke="#555" stroke-width="0.9"/>
<line x1="181.3" y1="824.8" x2="181.3" y2="827.5" stroke="#555" stroke-width="0.9"/>
<line x1="188.0" y1="824.8" x2="188.0" y2="827.5" stroke="#555" stroke-width="0.9"/>
<line x1="194.6" y1="824.8" x2="194.6" y2="827.5" stroke="#555" stroke-width="0.9"/>
<line x1="201.3" y1="824.8" x2="201.3" y2="827.5" stroke="#555" stroke-width="0.9"/>
<line x1="208.0" y1="824.8" x2="208.0" y2="827.5" stroke="#555" stroke-width="0.9"/>
<line x1="214.7" y1="824.8" x2="214.7" y2="827.5" stroke="#555" stroke-width="0.9"/>
<line x1="221.3" y1="824.8" x2="221.3" y2="827.5" stroke="#555" stroke-width="0.9"/>
<line x1="228.0" y1="824.8" x2="228.0" y2="827.5" stroke="#555" stroke-width="0.9"/>
<line x1="234.7" y1="824.8" x2="234.7" y2="827.5" stroke="#555" stroke-width="0.9"/>
<line x1="241.3" y1="824.8" x2="241.3" y2="827.5" stroke="#555" stroke-width="0.9"/>
<line x1="248.0" y1="824.8" x2="248.0" y2="827.5" stroke="#555" stroke-width="0.9"/>
<line x1="254.7" y1="824.8" x2="254.7" y2="827.5" stroke="#555" stroke-width="0.9"/>
<line x1="261.4" y1="824.8" x2="261.4" y2="827.5" stroke="#555" stroke-width="0.9"/>
<line x1="268.0" y1="824.8" x2="268.0" y2="827.5" stroke="#555" stroke-width="0.9"/>
<line x1="151.5" y1="698.3" x2="192.1" y2="698.3" stroke="#222" stroke-width="1.8"/>
<line x1="151.5" y1="694.3" x2="151.5" y2="702.9" stroke="#555" stroke-width="1.3"/>
<line x1="192.1" y1="694.3" x2="192.1" y2="702.9" stroke="#555" stroke-width="1.3"/>
<line x1="191.5" y1="725.9" x2="226.5" y2="725.9" stroke="#222" stroke-width="1.8"/>
<line x1="191.5" y1="721.9" x2="191.5" y2="730.5" stroke="#555" stroke-width="1.3"/>
<line x1="226.5" y1="721.9" x2="226.5" y2="730.5" stroke="#555" stroke-width="1.3"/>
<line x1="225.5" y1="749.4" x2="258.5" y2="749.4" stroke="#222" stroke-width="1.8"/>
<line x1="225.5" y1="745.4" x2="225.5" y2="754.0" stroke="#555" stroke-width="1.3"/>
<line x1="258.5" y1="745.4" x2="258.5" y2="754.0" stroke="#555" stroke-width="1.3"/>
<path d="M317.00,828.60 C327.98,828.60 366.44,828.65 378.00,828.60 C389.56,828.55 380.26,828.77 381.20,828.30 C382.14,827.83 382.57,827.33 383.20,826.00 C383.83,824.67 384.14,824.73 384.70,820.90 C385.26,817.07 385.72,812.75 386.30,804.70 C386.88,796.65 387.36,787.20 387.90,776.20 C388.44,765.20 388.83,753.36 389.30,743.60 C389.77,733.84 389.96,728.86 390.50,722.00 C391.04,715.14 391.83,708.74 392.30,705.50 C392.77,702.26 392.87,705.42 393.10,704.00 C393.33,702.58 393.38,700.89 393.60,697.60 C393.82,694.31 394.03,690.27 394.30,685.70 C394.57,681.13 394.85,675.76 395.10,672.20 C395.35,668.64 395.41,667.32 395.70,665.90 C395.99,664.48 396.36,665.02 396.70,664.30 C397.04,663.58 397.31,662.69 397.60,661.90 C397.89,661.11 398.05,659.54 398.30,659.90 C398.55,660.26 398.73,662.68 399.00,663.90 C399.27,665.12 399.53,665.64 399.80,666.70 C400.07,667.76 400.28,668.09 400.50,669.80 C400.72,671.51 400.80,674.69 401.00,676.20 C401.20,677.71 401.31,677.62 401.60,678.20 C401.89,678.78 402.31,678.48 402.60,679.40 C402.89,680.32 403.02,680.73 403.20,683.30 C403.38,685.87 403.42,690.41 403.60,693.70 C403.78,696.99 403.95,698.61 404.20,701.60 C404.45,704.59 404.71,706.99 405.00,710.30 C405.29,713.61 405.44,715.10 405.80,720.00 C406.16,724.90 406.55,733.25 407.00,737.50 C407.45,741.75 407.81,739.93 408.30,743.60 C408.79,747.27 409.09,752.41 409.70,757.90 C410.31,763.39 411.09,768.61 411.70,774.10 C412.31,779.59 412.61,785.47 413.10,788.40 C413.59,791.33 413.91,789.86 414.40,790.40 C414.89,790.94 415.30,791.04 415.80,791.40 C416.30,791.76 416.73,791.84 417.20,792.40 C417.67,792.96 417.86,793.13 418.40,794.50 C418.94,795.87 419.55,798.47 420.20,800.00 C420.85,801.53 421.35,802.53 422.00,803.00 C422.65,803.47 423.19,803.68 423.80,802.60 C424.41,801.52 424.84,798.49 425.40,797.00 C425.96,795.51 426.34,794.12 426.90,794.30 C427.46,794.48 427.89,796.34 428.50,798.00 C429.11,799.66 429.58,801.92 430.30,803.50 C431.02,805.08 431.73,805.86 432.50,806.80 C433.27,807.74 433.88,808.54 434.60,808.70 C435.32,808.86 435.80,808.01 436.50,807.70 C437.20,807.39 437.73,807.70 438.50,807.00 C439.27,806.30 440.12,803.82 440.80,803.80 C441.48,803.78 441.62,805.57 442.30,806.90 C442.98,808.23 443.84,811.06 444.60,811.20 C445.36,811.34 445.80,808.89 446.50,807.70 C447.20,806.51 447.73,805.43 448.50,804.60 C449.27,803.77 449.97,803.46 450.80,803.10 C451.63,802.74 452.27,802.89 453.10,802.60 C453.93,802.31 454.57,801.82 455.40,801.50 C456.23,801.18 456.73,800.93 457.70,800.80 C458.67,800.67 459.83,801.03 460.80,800.80 C461.77,800.57 462.36,799.91 463.10,799.50 C463.84,799.09 464.34,798.00 464.90,798.50 C465.46,799.00 465.70,800.37 466.20,802.30 C466.70,804.23 467.11,807.81 467.70,809.20 C468.29,810.59 468.82,810.13 469.50,810.00 C470.18,809.87 470.85,808.64 471.50,808.50 C472.15,808.36 472.40,809.20 473.10,809.20 C473.80,809.20 474.66,808.21 475.40,808.50 C476.14,808.79 476.52,809.56 477.20,810.80 C477.88,812.04 478.43,814.16 479.20,815.40 C479.97,816.64 480.80,816.46 481.50,817.70 C482.20,818.94 482.40,820.39 483.10,822.30 C483.80,824.21 484.52,827.17 485.40,828.30 C486.28,829.43 485.80,828.55 488.00,828.60 C490.20,828.65 495.87,828.60 497.60,828.60" fill="none" stroke="#111" stroke-width="1.25" stroke-linejoin="round"/>
<rect x="319" y="649.8" width="178.60000000000002" height="178.80000000000007" fill="none" stroke="#555" stroke-width="1.15"/>
<line x1="314.5" y1="655.4" x2="319" y2="655.4" stroke="#555" stroke-width="1.1"/>
<text x="312" y="658.3" font-size="8.2" text-anchor="end" fill="#444">150</text>
<line x1="314.5" y1="713.1" x2="319" y2="713.1" stroke="#555" stroke-width="1.1"/>
<text x="312" y="716.0" font-size="8.2" text-anchor="end" fill="#444">100</text>
<line x1="314.5" y1="770.9" x2="319" y2="770.9" stroke="#555" stroke-width="1.1"/>
<text x="312" y="773.8" font-size="8.2" text-anchor="end" fill="#444">50</text>
<line x1="314.5" y1="828.6" x2="319" y2="828.6" stroke="#555" stroke-width="1.1"/>
<text x="312" y="831.5" font-size="8.2" text-anchor="end" fill="#444">0</text>
<line x1="316.3" y1="828.6" x2="319" y2="828.6" stroke="#555" stroke-width="0.9"/>
<line x1="316.3" y1="817.1" x2="319" y2="817.1" stroke="#555" stroke-width="0.9"/>
<line x1="316.3" y1="805.5" x2="319" y2="805.5" stroke="#555" stroke-width="0.9"/>
<line x1="316.3" y1="794.0" x2="319" y2="794.0" stroke="#555" stroke-width="0.9"/>
<line x1="316.3" y1="782.4" x2="319" y2="782.4" stroke="#555" stroke-width="0.9"/>
<line x1="316.3" y1="770.9" x2="319" y2="770.9" stroke="#555" stroke-width="0.9"/>
<line x1="316.3" y1="759.3" x2="319" y2="759.3" stroke="#555" stroke-width="0.9"/>
<line x1="316.3" y1="747.8" x2="319" y2="747.8" stroke="#555" stroke-width="0.9"/>
<line x1="316.3" y1="736.2" x2="319" y2="736.2" stroke="#555" stroke-width="0.9"/>
<line x1="316.3" y1="724.7" x2="319" y2="724.7" stroke="#555" stroke-width="0.9"/>
<line x1="316.3" y1="713.1" x2="319" y2="713.1" stroke="#555" stroke-width="0.9"/>
<line x1="316.3" y1="701.6" x2="319" y2="701.6" stroke="#555" stroke-width="0.9"/>
<line x1="316.3" y1="690.0" x2="319" y2="690.0" stroke="#555" stroke-width="0.9"/>
<line x1="316.3" y1="678.5" x2="319" y2="678.5" stroke="#555" stroke-width="0.9"/>
<line x1="316.3" y1="666.9" x2="319" y2="666.9" stroke="#555" stroke-width="0.9"/>
<line x1="316.3" y1="655.4" x2="319" y2="655.4" stroke="#555" stroke-width="0.9"/>
<line x1="319.0" y1="828.6" x2="319.0" y2="833.1" stroke="#555" stroke-width="1.1"/>
<text x="319.0" y="844.6" font-size="8.2" text-anchor="middle" fill="#444">0</text>
<line x1="352.6" y1="828.6" x2="352.6" y2="833.1" stroke="#555" stroke-width="1.1"/>
<text x="352.6" y="844.6" font-size="8.2" text-anchor="middle" fill="#444">50K</text>
<line x1="386.2" y1="828.6" x2="386.2" y2="833.1" stroke="#555" stroke-width="1.1"/>
<text x="386.2" y="844.6" font-size="8.2" text-anchor="middle" fill="#444">100K</text>
<line x1="419.8" y1="828.6" x2="419.8" y2="833.1" stroke="#555" stroke-width="1.1"/>
<text x="419.8" y="844.6" font-size="8.2" text-anchor="middle" fill="#444">150K</text>
<line x1="453.4" y1="828.6" x2="453.4" y2="833.1" stroke="#555" stroke-width="1.1"/>
<text x="453.4" y="844.6" font-size="8.2" text-anchor="middle" fill="#444">200K</text>
<line x1="487.0" y1="828.6" x2="487.0" y2="833.1" stroke="#555" stroke-width="1.1"/>
<text x="487.0" y="844.6" font-size="8.2" text-anchor="middle" fill="#444">250K</text>
<line x1="319.0" y1="828.6" x2="319.0" y2="831.3000000000001" stroke="#555" stroke-width="0.9"/>
<line x1="325.7" y1="828.6" x2="325.7" y2="831.3000000000001" stroke="#555" stroke-width="0.9"/>
<line x1="332.4" y1="828.6" x2="332.4" y2="831.3000000000001" stroke="#555" stroke-width="0.9"/>
<line x1="339.2" y1="828.6" x2="339.2" y2="831.3000000000001" stroke="#555" stroke-width="0.9"/>
<line x1="345.9" y1="828.6" x2="345.9" y2="831.3000000000001" stroke="#555" stroke-width="0.9"/>
<line x1="352.6" y1="828.6" x2="352.6" y2="831.3000000000001" stroke="#555" stroke-width="0.9"/>
<line x1="359.3" y1="828.6" x2="359.3" y2="831.3000000000001" stroke="#555" stroke-width="0.9"/>
<line x1="366.0" y1="828.6" x2="366.0" y2="831.3000000000001" stroke="#555" stroke-width="0.9"/>
<line x1="372.8" y1="828.6" x2="372.8" y2="831.3000000000001" stroke="#555" stroke-width="0.9"/>
<line x1="379.5" y1="828.6" x2="379.5" y2="831.3000000000001" stroke="#555" stroke-width="0.9"/>
<line x1="386.2" y1="828.6" x2="386.2" y2="831.3000000000001" stroke="#555" stroke-width="0.9"/>
<line x1="392.9" y1="828.6" x2="392.9" y2="831.3000000000001" stroke="#555" stroke-width="0.9"/>
<line x1="399.6" y1="828.6" x2="399.6" y2="831.3000000000001" stroke="#555" stroke-width="0.9"/>
<line x1="406.4" y1="828.6" x2="406.4" y2="831.3000000000001" stroke="#555" stroke-width="0.9"/>
<line x1="413.1" y1="828.6" x2="413.1" y2="831.3000000000001" stroke="#555" stroke-width="0.9"/>
<line x1="419.8" y1="828.6" x2="419.8" y2="831.3000000000001" stroke="#555" stroke-width="0.9"/>
<line x1="426.5" y1="828.6" x2="426.5" y2="831.3000000000001" stroke="#555" stroke-width="0.9"/>
<line x1="433.2" y1="828.6" x2="433.2" y2="831.3000000000001" stroke="#555" stroke-width="0.9"/>
<line x1="440.0" y1="828.6" x2="440.0" y2="831.3000000000001" stroke="#555" stroke-width="0.9"/>
<line x1="446.7" y1="828.6" x2="446.7" y2="831.3000000000001" stroke="#555" stroke-width="0.9"/>
<line x1="453.4" y1="828.6" x2="453.4" y2="831.3000000000001" stroke="#555" stroke-width="0.9"/>
<line x1="460.1" y1="828.6" x2="460.1" y2="831.3000000000001" stroke="#555" stroke-width="0.9"/>
<line x1="466.8" y1="828.6" x2="466.8" y2="831.3000000000001" stroke="#555" stroke-width="0.9"/>
<line x1="473.6" y1="828.6" x2="473.6" y2="831.3000000000001" stroke="#555" stroke-width="0.9"/>
<line x1="480.3" y1="828.6" x2="480.3" y2="831.3000000000001" stroke="#555" stroke-width="0.9"/>
<line x1="487.0" y1="828.6" x2="487.0" y2="831.3000000000001" stroke="#555" stroke-width="0.9"/>
<line x1="493.7" y1="828.6" x2="493.7" y2="831.3000000000001" stroke="#555" stroke-width="0.9"/>
<line x1="377.1" y1="697.9" x2="416.5" y2="697.9" stroke="#222" stroke-width="1.8"/>
<line x1="377.1" y1="693.9" x2="377.1" y2="702.5" stroke="#555" stroke-width="1.3"/>
<line x1="416.5" y1="693.9" x2="416.5" y2="702.5" stroke="#555" stroke-width="1.3"/>
<line x1="416.5" y1="722.7" x2="451.8" y2="722.7" stroke="#222" stroke-width="1.8"/>
<line x1="416.5" y1="718.7" x2="416.5" y2="727.3000000000001" stroke="#555" stroke-width="1.3"/>
<line x1="451.8" y1="718.7" x2="451.8" y2="727.3000000000001" stroke="#555" stroke-width="1.3"/>
<line x1="451.7" y1="750.4" x2="485.4" y2="750.4" stroke="#222" stroke-width="1.8"/>
<line x1="451.7" y1="746.4" x2="451.7" y2="755.0" stroke="#555" stroke-width="1.3"/>
<line x1="485.4" y1="746.4" x2="485.4" y2="755.0" stroke="#555" stroke-width="1.3"/>
<text transform="translate(182.67,688.80) scale(1.0385,1)" font-size="17.6" fill="#000">72.5±2</text>
<text transform="translate(181.46,720.00) scale(1.0271,1)" font-size="17.6" fill="#000">16.4±0.5</text>
<text transform="translate(226.29,742.00) scale(1.0062,1)" font-size="17.6" fill="#000">11.1±1.1</text>
<text transform="translate(408.36,688.70) scale(1.0435,1)" font-size="17.6" fill="#000">70.1±3.5</text>
<text transform="translate(406.16,717.60) scale(1.0272,1)" font-size="17.6" fill="#000">18.3±1.2</text>
<text x="477.80" y="716.20" font-size="17">**</text>
<text transform="translate(447.35,744.70) scale(1.0393,1)" font-size="17.6" fill="#000">10.6±4.2</text>
</svg></body></html>
